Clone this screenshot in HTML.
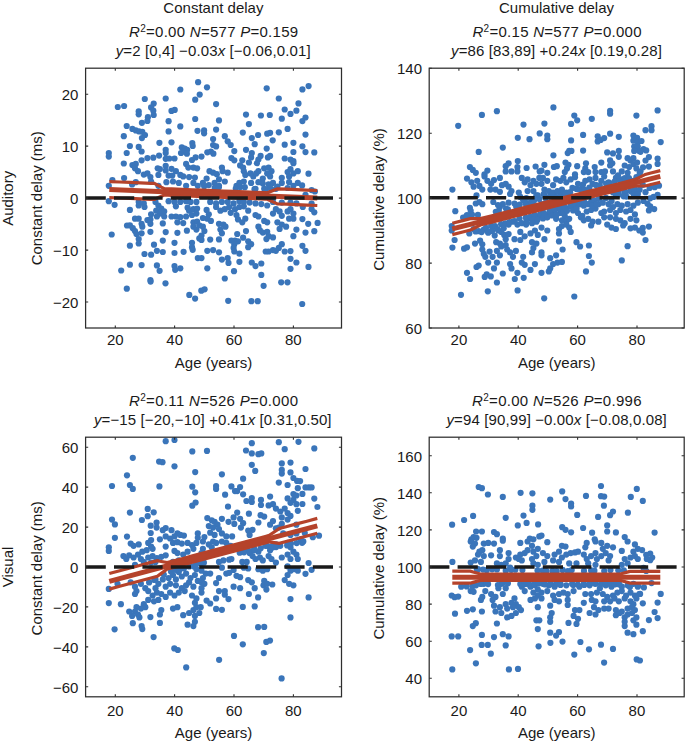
<!DOCTYPE html><html><head><meta charset="utf-8"><style>html,body{margin:0;padding:0;background:#fff;overflow:hidden}svg{display:block}text{font-family:"Liberation Sans", sans-serif;fill:#1a1a1a}</style></head><body>
<svg width="685" height="742" viewBox="0 0 685 742">
<rect width="685" height="742" fill="#fff"/>
<g fill="#3a75ba"><circle cx="198.1" cy="82.2" r="3.1"/><circle cx="180.3" cy="89.5" r="3.1"/><circle cx="199.7" cy="94.6" r="3.1"/><circle cx="144.8" cy="99.0" r="3.1"/><circle cx="165.7" cy="98.5" r="3.1"/><circle cx="195.2" cy="99.7" r="3.1"/><circle cx="117.8" cy="107.0" r="3.1"/><circle cx="124.1" cy="106.0" r="3.1"/><circle cx="153.7" cy="103.6" r="3.1"/><circle cx="151.1" cy="107.4" r="3.1"/><circle cx="153.3" cy="110.7" r="3.1"/><circle cx="153.7" cy="115.0" r="3.1"/><circle cx="138.7" cy="111.4" r="3.1"/><circle cx="138.7" cy="114.3" r="3.1"/><circle cx="171.5" cy="110.9" r="3.1"/><circle cx="174.7" cy="109.9" r="3.1"/><circle cx="147.9" cy="117.2" r="3.1"/><circle cx="147.4" cy="120.9" r="3.1"/><circle cx="141.9" cy="122.8" r="3.1"/><circle cx="168.6" cy="121.2" r="3.1"/><circle cx="195.2" cy="119.0" r="3.1"/><circle cx="126.7" cy="126.0" r="3.1"/><circle cx="180.3" cy="126.4" r="3.1"/><circle cx="132.4" cy="128.9" r="3.1"/><circle cx="135.8" cy="130.4" r="3.1"/><circle cx="139.1" cy="131.4" r="3.1"/><circle cx="142.3" cy="131.8" r="3.1"/><circle cx="145.0" cy="135.0" r="3.1"/><circle cx="141.9" cy="138.1" r="3.1"/><circle cx="168.6" cy="131.4" r="3.1"/><circle cx="197.5" cy="130.8" r="3.1"/><circle cx="123.8" cy="136.2" r="3.1"/><circle cx="159.4" cy="142.8" r="3.1"/><circle cx="171.5" cy="142.3" r="3.1"/><circle cx="192.3" cy="143.1" r="3.1"/><circle cx="192.7" cy="146.0" r="3.1"/><circle cx="129.9" cy="146.0" r="3.1"/><circle cx="138.7" cy="146.9" r="3.1"/><circle cx="141.6" cy="151.5" r="3.1"/><circle cx="165.7" cy="149.8" r="3.1"/><circle cx="165.7" cy="153.0" r="3.1"/><circle cx="181.8" cy="147.4" r="3.1"/><circle cx="184.7" cy="148.6" r="3.1"/><circle cx="187.2" cy="149.8" r="3.1"/><circle cx="181.0" cy="153.0" r="3.1"/><circle cx="183.9" cy="151.5" r="3.1"/><circle cx="186.9" cy="153.7" r="3.1"/><circle cx="108.8" cy="153.0" r="3.1"/><circle cx="108.8" cy="156.6" r="3.1"/><circle cx="126.7" cy="153.0" r="3.1"/><circle cx="141.6" cy="160.3" r="3.1"/><circle cx="147.4" cy="158.1" r="3.1"/><circle cx="153.3" cy="157.7" r="3.1"/><circle cx="159.1" cy="155.6" r="3.1"/><circle cx="165.7" cy="158.8" r="3.1"/><circle cx="169.3" cy="158.5" r="3.1"/><circle cx="174.5" cy="158.5" r="3.1"/><circle cx="192.0" cy="160.0" r="3.1"/><circle cx="195.6" cy="157.4" r="3.1"/><circle cx="123.8" cy="163.5" r="3.1"/><circle cx="132.4" cy="165.0" r="3.1"/><circle cx="135.8" cy="163.9" r="3.1"/><circle cx="135.0" cy="168.3" r="3.1"/><circle cx="138.0" cy="171.2" r="3.1"/><circle cx="157.7" cy="168.3" r="3.1"/><circle cx="159.9" cy="169.1" r="3.1"/><circle cx="165.7" cy="165.8" r="3.1"/><circle cx="165.7" cy="170.5" r="3.1"/><circle cx="171.5" cy="168.8" r="3.1"/><circle cx="175.9" cy="171.2" r="3.1"/><circle cx="186.1" cy="163.9" r="3.1"/><circle cx="188.3" cy="167.6" r="3.1"/><circle cx="193.4" cy="167.6" r="3.1"/><circle cx="197.1" cy="168.3" r="3.1"/><circle cx="143.8" cy="174.6" r="3.1"/><circle cx="147.4" cy="173.4" r="3.1"/><circle cx="150.4" cy="177.1" r="3.1"/><circle cx="158.4" cy="174.9" r="3.1"/><circle cx="168.6" cy="175.6" r="3.1"/><circle cx="172.3" cy="175.6" r="3.1"/><circle cx="180.3" cy="174.9" r="3.1"/><circle cx="183.2" cy="176.4" r="3.1"/><circle cx="189.1" cy="177.1" r="3.1"/><circle cx="194.9" cy="177.5" r="3.1"/><circle cx="124.1" cy="178.1" r="3.1"/><circle cx="112.4" cy="180.0" r="3.1"/><circle cx="207.0" cy="87.3" r="3.1"/><circle cx="266.7" cy="88.3" r="3.1"/><circle cx="278.8" cy="98.5" r="3.1"/><circle cx="216.1" cy="104.1" r="3.1"/><circle cx="298.5" cy="103.4" r="3.1"/><circle cx="284.7" cy="109.5" r="3.1"/><circle cx="290.5" cy="113.9" r="3.1"/><circle cx="296.4" cy="110.7" r="3.1"/><circle cx="246.0" cy="114.6" r="3.1"/><circle cx="260.9" cy="115.5" r="3.1"/><circle cx="269.8" cy="115.0" r="3.1"/><circle cx="281.8" cy="118.7" r="3.1"/><circle cx="219.0" cy="120.4" r="3.1"/><circle cx="248.9" cy="124.1" r="3.1"/><circle cx="287.6" cy="128.9" r="3.1"/><circle cx="216.1" cy="129.6" r="3.1"/><circle cx="204.1" cy="130.4" r="3.1"/><circle cx="204.1" cy="133.3" r="3.1"/><circle cx="242.8" cy="132.6" r="3.1"/><circle cx="258.1" cy="135.0" r="3.1"/><circle cx="267.2" cy="133.7" r="3.1"/><circle cx="270.1" cy="132.8" r="3.1"/><circle cx="278.8" cy="132.3" r="3.1"/><circle cx="224.8" cy="136.2" r="3.1"/><circle cx="251.8" cy="138.1" r="3.1"/><circle cx="213.1" cy="139.1" r="3.1"/><circle cx="227.7" cy="141.3" r="3.1"/><circle cx="230.7" cy="145.0" r="3.1"/><circle cx="234.3" cy="151.1" r="3.1"/><circle cx="254.7" cy="144.2" r="3.1"/><circle cx="272.7" cy="140.3" r="3.1"/><circle cx="284.7" cy="144.7" r="3.1"/><circle cx="293.4" cy="142.8" r="3.1"/><circle cx="213.1" cy="145.0" r="3.1"/><circle cx="216.1" cy="146.4" r="3.1"/><circle cx="246.0" cy="149.8" r="3.1"/><circle cx="266.7" cy="148.6" r="3.1"/><circle cx="293.4" cy="152.0" r="3.1"/><circle cx="207.3" cy="152.3" r="3.1"/><circle cx="210.9" cy="151.5" r="3.1"/><circle cx="213.4" cy="153.7" r="3.1"/><circle cx="201.5" cy="156.6" r="3.1"/><circle cx="251.8" cy="153.0" r="3.1"/><circle cx="251.1" cy="157.4" r="3.1"/><circle cx="248.9" cy="162.5" r="3.1"/><circle cx="260.6" cy="155.9" r="3.1"/><circle cx="258.4" cy="159.6" r="3.1"/><circle cx="256.9" cy="163.2" r="3.1"/><circle cx="267.9" cy="157.4" r="3.1"/><circle cx="270.1" cy="155.9" r="3.1"/><circle cx="284.7" cy="158.5" r="3.1"/><circle cx="290.5" cy="159.6" r="3.1"/><circle cx="293.4" cy="161.0" r="3.1"/><circle cx="293.4" cy="163.2" r="3.1"/><circle cx="231.4" cy="158.1" r="3.1"/><circle cx="234.3" cy="160.3" r="3.1"/><circle cx="242.3" cy="160.3" r="3.1"/><circle cx="240.1" cy="165.4" r="3.1"/><circle cx="243.1" cy="167.6" r="3.1"/><circle cx="243.8" cy="171.2" r="3.1"/><circle cx="245.3" cy="174.9" r="3.1"/><circle cx="221.9" cy="167.6" r="3.1"/><circle cx="222.6" cy="171.2" r="3.1"/><circle cx="209.5" cy="171.2" r="3.1"/><circle cx="213.1" cy="172.7" r="3.1"/><circle cx="216.8" cy="174.2" r="3.1"/><circle cx="227.7" cy="172.7" r="3.1"/><circle cx="250.4" cy="173.4" r="3.1"/><circle cx="253.3" cy="176.4" r="3.1"/><circle cx="256.2" cy="173.4" r="3.1"/><circle cx="258.4" cy="171.2" r="3.1"/><circle cx="264.2" cy="168.3" r="3.1"/><circle cx="268.6" cy="167.6" r="3.1"/><circle cx="271.5" cy="171.2" r="3.1"/><circle cx="267.2" cy="173.4" r="3.1"/><circle cx="270.1" cy="176.4" r="3.1"/><circle cx="287.6" cy="172.0" r="3.1"/><circle cx="290.5" cy="169.1" r="3.1"/><circle cx="293.4" cy="173.4" r="3.1"/><circle cx="289.1" cy="176.4" r="3.1"/><circle cx="297.8" cy="171.2" r="3.1"/><circle cx="262.8" cy="178.5" r="3.1"/><circle cx="281.8" cy="177.8" r="3.1"/><circle cx="206.6" cy="178.5" r="3.1"/><circle cx="219.0" cy="179.3" r="3.1"/><circle cx="302.4" cy="89.4" r="3.1"/><circle cx="308.6" cy="86.1" r="3.1"/><circle cx="305.5" cy="117.5" r="3.1"/><circle cx="302.4" cy="121.1" r="3.1"/><circle cx="305.5" cy="134.6" r="3.1"/><circle cx="302.4" cy="146.3" r="3.1"/><circle cx="305.5" cy="152.1" r="3.1"/><circle cx="314.3" cy="152.4" r="3.1"/><circle cx="308.5" cy="173.7" r="3.1"/><circle cx="108.8" cy="185.8" r="3.1"/><circle cx="132.1" cy="184.4" r="3.1"/><circle cx="135.8" cy="182.2" r="3.1"/><circle cx="151.1" cy="181.5" r="3.1"/><circle cx="166.4" cy="182.2" r="3.1"/><circle cx="173.0" cy="181.5" r="3.1"/><circle cx="178.8" cy="182.9" r="3.1"/><circle cx="186.1" cy="185.8" r="3.1"/><circle cx="193.4" cy="182.9" r="3.1"/><circle cx="197.8" cy="185.8" r="3.1"/><circle cx="158.4" cy="185.8" r="3.1"/><circle cx="108.8" cy="201.2" r="3.1"/><circle cx="114.6" cy="204.8" r="3.1"/><circle cx="129.9" cy="209.9" r="3.1"/><circle cx="138.7" cy="201.9" r="3.1"/><circle cx="138.7" cy="205.5" r="3.1"/><circle cx="143.8" cy="203.4" r="3.1"/><circle cx="144.5" cy="207.0" r="3.1"/><circle cx="155.5" cy="201.9" r="3.1"/><circle cx="158.4" cy="205.5" r="3.1"/><circle cx="161.3" cy="208.5" r="3.1"/><circle cx="156.2" cy="210.7" r="3.1"/><circle cx="159.9" cy="213.6" r="3.1"/><circle cx="164.2" cy="211.4" r="3.1"/><circle cx="164.2" cy="216.5" r="3.1"/><circle cx="156.9" cy="216.5" r="3.1"/><circle cx="151.1" cy="214.3" r="3.1"/><circle cx="168.6" cy="201.2" r="3.1"/><circle cx="174.5" cy="201.9" r="3.1"/><circle cx="175.9" cy="206.3" r="3.1"/><circle cx="180.3" cy="201.9" r="3.1"/><circle cx="186.1" cy="201.2" r="3.1"/><circle cx="190.5" cy="201.9" r="3.1"/><circle cx="196.4" cy="201.9" r="3.1"/><circle cx="187.6" cy="207.7" r="3.1"/><circle cx="189.1" cy="210.7" r="3.1"/><circle cx="193.4" cy="209.2" r="3.1"/><circle cx="197.1" cy="208.5" r="3.1"/><circle cx="192.0" cy="215.0" r="3.1"/><circle cx="196.4" cy="213.6" r="3.1"/><circle cx="171.5" cy="216.5" r="3.1"/><circle cx="175.9" cy="216.5" r="3.1"/><circle cx="180.3" cy="217.2" r="3.1"/><circle cx="186.1" cy="216.5" r="3.1"/><circle cx="177.4" cy="222.3" r="3.1"/><circle cx="183.2" cy="223.1" r="3.1"/><circle cx="135.0" cy="218.7" r="3.1"/><circle cx="138.7" cy="218.7" r="3.1"/><circle cx="141.6" cy="223.8" r="3.1"/><circle cx="142.3" cy="226.7" r="3.1"/><circle cx="147.4" cy="220.1" r="3.1"/><circle cx="150.4" cy="219.4" r="3.1"/><circle cx="150.4" cy="223.8" r="3.1"/><circle cx="162.8" cy="223.4" r="3.1"/><circle cx="193.4" cy="222.3" r="3.1"/><circle cx="197.1" cy="221.6" r="3.1"/><circle cx="193.4" cy="226.7" r="3.1"/><circle cx="196.4" cy="229.6" r="3.1"/><circle cx="199.3" cy="225.3" r="3.1"/><circle cx="127.0" cy="225.5" r="3.1"/><circle cx="129.9" cy="225.3" r="3.1"/><circle cx="132.8" cy="228.2" r="3.1"/><circle cx="135.0" cy="231.1" r="3.1"/><circle cx="136.5" cy="234.0" r="3.1"/><circle cx="111.7" cy="234.5" r="3.1"/><circle cx="141.6" cy="233.3" r="3.1"/><circle cx="150.4" cy="231.8" r="3.1"/><circle cx="165.7" cy="232.1" r="3.1"/><circle cx="177.4" cy="232.8" r="3.1"/><circle cx="186.9" cy="230.7" r="3.1"/><circle cx="138.7" cy="239.1" r="3.1"/><circle cx="138.7" cy="243.5" r="3.1"/><circle cx="129.9" cy="245.7" r="3.1"/><circle cx="154.0" cy="244.7" r="3.1"/><circle cx="156.9" cy="250.8" r="3.1"/><circle cx="162.8" cy="252.0" r="3.1"/><circle cx="162.8" cy="240.6" r="3.1"/><circle cx="174.5" cy="242.8" r="3.1"/><circle cx="192.0" cy="242.8" r="3.1"/><circle cx="192.0" cy="247.2" r="3.1"/><circle cx="192.7" cy="249.8" r="3.1"/><circle cx="199.3" cy="238.4" r="3.1"/><circle cx="144.5" cy="254.0" r="3.1"/><circle cx="151.1" cy="254.7" r="3.1"/><circle cx="174.5" cy="253.0" r="3.1"/><circle cx="183.6" cy="251.8" r="3.1"/><circle cx="197.8" cy="258.1" r="3.1"/><circle cx="129.9" cy="264.7" r="3.1"/><circle cx="141.6" cy="265.1" r="3.1"/><circle cx="156.9" cy="265.4" r="3.1"/><circle cx="159.6" cy="270.8" r="3.1"/><circle cx="174.5" cy="266.1" r="3.1"/><circle cx="175.2" cy="269.8" r="3.1"/><circle cx="180.3" cy="268.3" r="3.1"/><circle cx="121.2" cy="270.5" r="3.1"/><circle cx="150.4" cy="280.0" r="3.1"/><circle cx="202.9" cy="182.9" r="3.1"/><circle cx="208.8" cy="185.1" r="3.1"/><circle cx="214.6" cy="182.9" r="3.1"/><circle cx="219.0" cy="185.8" r="3.1"/><circle cx="224.8" cy="181.5" r="3.1"/><circle cx="217.5" cy="188.0" r="3.1"/><circle cx="236.5" cy="185.8" r="3.1"/><circle cx="239.4" cy="182.9" r="3.1"/><circle cx="243.8" cy="181.5" r="3.1"/><circle cx="251.1" cy="182.9" r="3.1"/><circle cx="258.4" cy="182.2" r="3.1"/><circle cx="262.8" cy="183.6" r="3.1"/><circle cx="268.6" cy="184.4" r="3.1"/><circle cx="273.0" cy="182.9" r="3.1"/><circle cx="277.4" cy="186.6" r="3.1"/><circle cx="281.8" cy="182.9" r="3.1"/><circle cx="289.1" cy="182.2" r="3.1"/><circle cx="293.4" cy="185.8" r="3.1"/><circle cx="297.8" cy="182.9" r="3.1"/><circle cx="255.5" cy="188.8" r="3.1"/><circle cx="264.2" cy="188.8" r="3.1"/><circle cx="275.9" cy="188.8" r="3.1"/><circle cx="287.6" cy="188.0" r="3.1"/><circle cx="210.2" cy="201.9" r="3.1"/><circle cx="216.1" cy="203.4" r="3.1"/><circle cx="221.9" cy="201.9" r="3.1"/><circle cx="227.7" cy="201.9" r="3.1"/><circle cx="233.6" cy="203.4" r="3.1"/><circle cx="239.4" cy="201.2" r="3.1"/><circle cx="243.8" cy="201.9" r="3.1"/><circle cx="249.6" cy="202.6" r="3.1"/><circle cx="255.5" cy="203.4" r="3.1"/><circle cx="261.3" cy="204.1" r="3.1"/><circle cx="267.2" cy="205.5" r="3.1"/><circle cx="273.0" cy="201.9" r="3.1"/><circle cx="281.8" cy="202.6" r="3.1"/><circle cx="290.5" cy="202.6" r="3.1"/><circle cx="296.4" cy="203.4" r="3.1"/><circle cx="216.1" cy="207.0" r="3.1"/><circle cx="220.4" cy="210.7" r="3.1"/><circle cx="224.8" cy="209.2" r="3.1"/><circle cx="229.2" cy="207.0" r="3.1"/><circle cx="230.7" cy="212.8" r="3.1"/><circle cx="235.0" cy="209.2" r="3.1"/><circle cx="239.4" cy="207.0" r="3.1"/><circle cx="243.8" cy="206.3" r="3.1"/><circle cx="248.2" cy="210.7" r="3.1"/><circle cx="206.6" cy="209.9" r="3.1"/><circle cx="208.8" cy="214.3" r="3.1"/><circle cx="207.3" cy="218.7" r="3.1"/><circle cx="210.9" cy="220.9" r="3.1"/><circle cx="202.9" cy="218.0" r="3.1"/><circle cx="236.5" cy="215.0" r="3.1"/><circle cx="238.0" cy="219.4" r="3.1"/><circle cx="242.3" cy="222.3" r="3.1"/><circle cx="245.3" cy="218.7" r="3.1"/><circle cx="255.5" cy="215.0" r="3.1"/><circle cx="258.4" cy="216.5" r="3.1"/><circle cx="264.2" cy="220.9" r="3.1"/><circle cx="267.2" cy="222.3" r="3.1"/><circle cx="273.0" cy="213.6" r="3.1"/><circle cx="275.9" cy="209.2" r="3.1"/><circle cx="279.6" cy="211.4" r="3.1"/><circle cx="281.8" cy="215.8" r="3.1"/><circle cx="287.6" cy="211.4" r="3.1"/><circle cx="290.5" cy="209.2" r="3.1"/><circle cx="293.4" cy="213.6" r="3.1"/><circle cx="289.1" cy="218.7" r="3.1"/><circle cx="293.4" cy="218.7" r="3.1"/><circle cx="277.4" cy="222.3" r="3.1"/><circle cx="281.8" cy="224.5" r="3.1"/><circle cx="279.6" cy="228.9" r="3.1"/><circle cx="286.1" cy="226.7" r="3.1"/><circle cx="219.0" cy="223.8" r="3.1"/><circle cx="223.4" cy="224.5" r="3.1"/><circle cx="225.5" cy="226.7" r="3.1"/><circle cx="220.4" cy="229.6" r="3.1"/><circle cx="221.9" cy="233.3" r="3.1"/><circle cx="202.9" cy="226.7" r="3.1"/><circle cx="204.4" cy="231.1" r="3.1"/><circle cx="201.5" cy="235.5" r="3.1"/><circle cx="201.5" cy="239.9" r="3.1"/><circle cx="258.4" cy="226.7" r="3.1"/><circle cx="259.9" cy="230.4" r="3.1"/><circle cx="262.8" cy="232.6" r="3.1"/><circle cx="267.2" cy="231.8" r="3.1"/><circle cx="268.6" cy="236.2" r="3.1"/><circle cx="273.0" cy="237.4" r="3.1"/><circle cx="266.4" cy="239.1" r="3.1"/><circle cx="246.0" cy="231.1" r="3.1"/><circle cx="237.2" cy="234.0" r="3.1"/><circle cx="243.1" cy="237.7" r="3.1"/><circle cx="296.4" cy="229.6" r="3.1"/><circle cx="293.4" cy="236.2" r="3.1"/><circle cx="210.2" cy="239.6" r="3.1"/><circle cx="219.0" cy="239.4" r="3.1"/><circle cx="231.4" cy="240.6" r="3.1"/><circle cx="235.0" cy="240.6" r="3.1"/><circle cx="238.0" cy="241.3" r="3.1"/><circle cx="234.3" cy="244.2" r="3.1"/><circle cx="233.6" cy="247.9" r="3.1"/><circle cx="234.3" cy="251.5" r="3.1"/><circle cx="239.4" cy="253.7" r="3.1"/><circle cx="248.2" cy="241.3" r="3.1"/><circle cx="251.1" cy="244.2" r="3.1"/><circle cx="248.2" cy="247.2" r="3.1"/><circle cx="281.8" cy="244.2" r="3.1"/><circle cx="278.8" cy="247.9" r="3.1"/><circle cx="273.0" cy="250.1" r="3.1"/><circle cx="268.6" cy="251.5" r="3.1"/><circle cx="265.7" cy="251.5" r="3.1"/><circle cx="275.9" cy="250.8" r="3.1"/><circle cx="284.7" cy="251.5" r="3.1"/><circle cx="290.5" cy="251.1" r="3.1"/><circle cx="207.3" cy="250.8" r="3.1"/><circle cx="213.1" cy="250.1" r="3.1"/><circle cx="219.0" cy="252.3" r="3.1"/><circle cx="201.5" cy="258.1" r="3.1"/><circle cx="221.9" cy="259.6" r="3.1"/><circle cx="227.7" cy="258.1" r="3.1"/><circle cx="228.5" cy="262.9" r="3.1"/><circle cx="239.4" cy="261.8" r="3.1"/><circle cx="251.8" cy="262.5" r="3.1"/><circle cx="255.5" cy="266.1" r="3.1"/><circle cx="261.3" cy="263.5" r="3.1"/><circle cx="290.5" cy="258.8" r="3.1"/><circle cx="296.4" cy="262.5" r="3.1"/><circle cx="207.3" cy="268.3" r="3.1"/><circle cx="234.0" cy="271.2" r="3.1"/><circle cx="290.5" cy="268.8" r="3.1"/><circle cx="261.3" cy="274.9" r="3.1"/><circle cx="224.8" cy="278.5" r="3.1"/><circle cx="302.1" cy="185.4" r="3.1"/><circle cx="311.6" cy="190.1" r="3.1"/><circle cx="314.9" cy="191.5" r="3.1"/><circle cx="305.5" cy="194.8" r="3.1"/><circle cx="311.6" cy="203.6" r="3.1"/><circle cx="302.8" cy="207.0" r="3.1"/><circle cx="311.6" cy="209.0" r="3.1"/><circle cx="314.3" cy="212.3" r="3.1"/><circle cx="302.4" cy="219.1" r="3.1"/><circle cx="308.2" cy="223.8" r="3.1"/><circle cx="317.6" cy="222.9" r="3.1"/><circle cx="305.5" cy="232.6" r="3.1"/><circle cx="314.3" cy="231.2" r="3.1"/><circle cx="302.4" cy="245.8" r="3.1"/><circle cx="305.5" cy="250.8" r="3.1"/><circle cx="308.5" cy="266.9" r="3.1"/><circle cx="126.8" cy="288.7" r="3.1"/><circle cx="150.6" cy="281.6" r="3.1"/><circle cx="165.5" cy="283.3" r="3.1"/><circle cx="189.3" cy="294.9" r="3.1"/><circle cx="195.1" cy="298.6" r="3.1"/><circle cx="201.3" cy="290.7" r="3.1"/><circle cx="204.6" cy="289.3" r="3.1"/><circle cx="228.2" cy="300.8" r="3.1"/><circle cx="251.4" cy="301.2" r="3.1"/><circle cx="257.7" cy="301.2" r="3.1"/><circle cx="263.6" cy="285.8" r="3.1"/><circle cx="281.2" cy="282.3" r="3.1"/><circle cx="287.5" cy="282.3" r="3.1"/><circle cx="302.2" cy="304.0" r="3.1"/></g>
<g fill="#3a75ba"><circle cx="204.2" cy="186.2" r="3.1"/><circle cx="214.7" cy="187.8" r="3.1"/><circle cx="218.9" cy="187.2" r="3.1"/><circle cx="235.8" cy="188.5" r="3.1"/><circle cx="240.3" cy="187.0" r="3.1"/><circle cx="244.8" cy="187.2" r="3.1"/><circle cx="254.5" cy="189.2" r="3.1"/><circle cx="265.8" cy="189.6" r="3.1"/><circle cx="270.3" cy="188.1" r="3.1"/></g>
<g fill="none" stroke-linecap="butt">
<path d="M109.3 181.6 L119.7 182.0 L130.1 182.4 L140.5 182.9 L150.9 183.3 L154.3 183.4 L161.3 187.1 L164.3 188.6 L171.7 188.9 L182.1 189.3 L192.5 189.8 L202.9 190.2 L213.3 190.6 L223.7 191.0 L234.1 191.4 L244.5 191.9 L254.9 192.3 L265.3 192.7 L267.3 192.8 L275.7 189.5 L277.3 188.9 L286.1 189.2 L296.5 189.7 L306.9 190.1 L317.3 190.5" stroke="#b5432b" stroke-width="3.2"/>
<path d="M109.3 197.6 L119.7 198.0 L130.1 198.4 L140.5 198.9 L150.9 199.3 L154.3 199.4 L161.3 196.3 L164.3 195.0 L171.7 195.3 L182.1 195.7 L192.5 196.2 L202.9 196.6 L213.3 197.0 L223.7 197.4 L234.1 197.8 L244.5 198.3 L254.9 198.7 L265.3 199.1 L267.3 199.2 L275.7 203.1 L277.3 203.9 L286.1 204.2 L296.5 204.7 L306.9 205.1 L317.3 205.5" stroke="#b5432b" stroke-width="3.2"/>
<line x1="109.3" y1="189.6" x2="317.3" y2="198.0" stroke="#b5432b" stroke-width="5"/>
</g>
<line x1="85.6" y1="198.1" x2="341.5" y2="198.1" stroke="#1a1a1a" stroke-width="3.5" stroke-dasharray="20.2 8.2"/>
<rect x="85.6" y="68.2" width="255.9" height="259.8" fill="none" stroke="#2e2e2e" stroke-width="1.25"/>
<path d="M115.3 328.0v-2.6M115.3 68.2v2.6M174.6 328.0v-2.6M174.6 68.2v2.6M234.0 328.0v-2.6M234.0 68.2v2.6M293.4 328.0v-2.6M293.4 68.2v2.6M85.6 94.2h2.6M341.5 94.2h-2.6M85.6 146.1h2.6M341.5 146.1h-2.6M85.6 198.1h2.6M341.5 198.1h-2.6M85.6 250.1h2.6M341.5 250.1h-2.6M85.6 302.0h2.6M341.5 302.0h-2.6" stroke="#2e2e2e" stroke-width="1.1" fill="none"/>
<text id="xt0_20" transform="translate(115.28,345.20)" font-size="15" text-anchor="middle">20</text>
<text id="xt0_40" transform="translate(174.64,345.20)" font-size="15" text-anchor="middle">40</text>
<text id="xt0_60" transform="translate(234.00,345.20)" font-size="15" text-anchor="middle">60</text>
<text id="xt0_80" transform="translate(293.36,345.20)" font-size="15" text-anchor="middle">80</text>
<text id="yt0_20" transform="translate(78.40,100.38)" font-size="15" text-anchor="end">20</text>
<text id="yt0_10" transform="translate(78.40,152.34)" font-size="15" text-anchor="end">10</text>
<text id="yt0_0" transform="translate(78.40,204.30)" font-size="15" text-anchor="end">0</text>
<text id="yt0_-10" transform="translate(78.40,256.26)" font-size="15" text-anchor="end">−10</text>
<text id="yt0_-20" transform="translate(78.40,308.22)" font-size="15" text-anchor="end">−20</text>
<text id="xl0" transform="translate(213.55,367.60)" font-size="15" text-anchor="middle">Age (years)</text>
<text id="yl0" transform="translate(41.80,198.25) rotate(-90)" font-size="15" text-anchor="middle">Constant delay (ms)</text>
<text id="ti0" transform="translate(213.40,13.10)" font-size="15" text-anchor="middle">Constant delay</text>
<text id="l2_0" transform="translate(213.60,37.20)" font-size="15" text-anchor="middle" textLength="169.00" lengthAdjust="spacing"><tspan font-style="italic">R</tspan><tspan font-size="10" dy="-5.6">2</tspan><tspan dy="5.6">=0.00 </tspan><tspan font-style="italic">N</tspan>=577 <tspan font-style="italic">P</tspan>=0.159</text>
<text id="l3_0" transform="translate(213.15,55.60)" font-size="15" text-anchor="middle" textLength="194.90" lengthAdjust="spacing"><tspan font-style="italic">y</tspan>=2 [0,4] −0.03<tspan font-style="italic">x</tspan> [−0.06,0.01]</text>
<g fill="#3a75ba"><circle cx="458.2" cy="125.8" r="3.1"/><circle cx="481.9" cy="114.9" r="3.1"/><circle cx="496.9" cy="111.2" r="3.1"/><circle cx="523.5" cy="124.6" r="3.1"/><circle cx="539.7" cy="133.4" r="3.1"/><circle cx="517.8" cy="137.8" r="3.1"/><circle cx="529.5" cy="139.2" r="3.1"/><circle cx="502.8" cy="147.6" r="3.1"/><circle cx="478.7" cy="151.9" r="3.1"/><circle cx="517.8" cy="161.1" r="3.1"/><circle cx="469.9" cy="167.0" r="3.1"/><circle cx="472.8" cy="169.9" r="3.1"/><circle cx="475.8" cy="172.8" r="3.1"/><circle cx="487.4" cy="170.6" r="3.1"/><circle cx="484.5" cy="174.3" r="3.1"/><circle cx="505.7" cy="166.2" r="3.1"/><circle cx="508.6" cy="163.3" r="3.1"/><circle cx="505.7" cy="171.4" r="3.1"/><circle cx="511.5" cy="171.4" r="3.1"/><circle cx="517.4" cy="167.0" r="3.1"/><circle cx="517.4" cy="171.4" r="3.1"/><circle cx="526.6" cy="168.0" r="3.1"/><circle cx="535.6" cy="166.5" r="3.1"/><circle cx="539.7" cy="171.4" r="3.1"/><circle cx="553.4" cy="107.4" r="3.1"/><circle cx="610.1" cy="110.8" r="3.1"/><circle cx="610.1" cy="113.7" r="3.1"/><circle cx="636.4" cy="115.6" r="3.1"/><circle cx="574.3" cy="115.6" r="3.1"/><circle cx="577.2" cy="120.3" r="3.1"/><circle cx="571.1" cy="123.9" r="3.1"/><circle cx="591.8" cy="118.8" r="3.1"/><circle cx="544.4" cy="123.6" r="3.1"/><circle cx="547.3" cy="135.6" r="3.1"/><circle cx="547.3" cy="139.2" r="3.1"/><circle cx="583.1" cy="134.9" r="3.1"/><circle cx="571.1" cy="140.4" r="3.1"/><circle cx="597.7" cy="136.3" r="3.1"/><circle cx="597.7" cy="141.4" r="3.1"/><circle cx="600.6" cy="140.0" r="3.1"/><circle cx="604.2" cy="138.1" r="3.1"/><circle cx="610.1" cy="133.7" r="3.1"/><circle cx="618.8" cy="136.8" r="3.1"/><circle cx="633.4" cy="135.6" r="3.1"/><circle cx="637.1" cy="137.8" r="3.1"/><circle cx="633.4" cy="140.7" r="3.1"/><circle cx="637.8" cy="142.2" r="3.1"/><circle cx="634.2" cy="146.5" r="3.1"/><circle cx="637.8" cy="146.5" r="3.1"/><circle cx="634.2" cy="150.9" r="3.1"/><circle cx="639.3" cy="150.9" r="3.1"/><circle cx="569.2" cy="150.9" r="3.1"/><circle cx="571.4" cy="150.9" r="3.1"/><circle cx="567.7" cy="153.1" r="3.1"/><circle cx="583.1" cy="150.6" r="3.1"/><circle cx="553.4" cy="155.3" r="3.1"/><circle cx="607.2" cy="152.4" r="3.1"/><circle cx="613.0" cy="153.4" r="3.1"/><circle cx="618.8" cy="150.9" r="3.1"/><circle cx="618.8" cy="156.8" r="3.1"/><circle cx="627.6" cy="158.2" r="3.1"/><circle cx="630.5" cy="160.4" r="3.1"/><circle cx="633.4" cy="158.2" r="3.1"/><circle cx="544.4" cy="164.8" r="3.1"/><circle cx="553.9" cy="167.0" r="3.1"/><circle cx="556.8" cy="166.2" r="3.1"/><circle cx="565.5" cy="162.6" r="3.1"/><circle cx="568.5" cy="164.8" r="3.1"/><circle cx="567.0" cy="168.4" r="3.1"/><circle cx="577.2" cy="166.2" r="3.1"/><circle cx="586.0" cy="163.3" r="3.1"/><circle cx="585.3" cy="168.4" r="3.1"/><circle cx="583.8" cy="172.1" r="3.1"/><circle cx="594.7" cy="167.0" r="3.1"/><circle cx="601.3" cy="162.6" r="3.1"/><circle cx="610.1" cy="160.4" r="3.1"/><circle cx="612.3" cy="163.3" r="3.1"/><circle cx="610.1" cy="165.5" r="3.1"/><circle cx="624.7" cy="165.5" r="3.1"/><circle cx="629.1" cy="167.0" r="3.1"/><circle cx="633.4" cy="164.1" r="3.1"/><circle cx="636.4" cy="168.4" r="3.1"/><circle cx="637.1" cy="162.6" r="3.1"/><circle cx="541.5" cy="170.6" r="3.1"/><circle cx="547.3" cy="172.8" r="3.1"/><circle cx="564.8" cy="172.1" r="3.1"/><circle cx="575.0" cy="174.3" r="3.1"/><circle cx="588.2" cy="172.1" r="3.1"/><circle cx="595.5" cy="172.1" r="3.1"/><circle cx="601.3" cy="172.1" r="3.1"/><circle cx="605.0" cy="171.4" r="3.1"/><circle cx="613.0" cy="171.4" r="3.1"/><circle cx="621.8" cy="171.4" r="3.1"/><circle cx="627.6" cy="172.8" r="3.1"/><circle cx="657.6" cy="110.4" r="3.1"/><circle cx="651.5" cy="126.2" r="3.1"/><circle cx="651.5" cy="130.2" r="3.1"/><circle cx="645.5" cy="130.2" r="3.1"/><circle cx="641.5" cy="141.0" r="3.1"/><circle cx="643.5" cy="149.1" r="3.1"/><circle cx="646.2" cy="150.4" r="3.1"/><circle cx="640.5" cy="151.8" r="3.1"/><circle cx="660.7" cy="142.1" r="3.1"/><circle cx="648.9" cy="157.1" r="3.1"/><circle cx="645.5" cy="160.5" r="3.1"/><circle cx="657.6" cy="158.5" r="3.1"/><circle cx="657.6" cy="163.9" r="3.1"/><circle cx="648.9" cy="166.6" r="3.1"/><circle cx="640.5" cy="171.3" r="3.1"/><circle cx="467.0" cy="178.6" r="3.1"/><circle cx="471.4" cy="182.3" r="3.1"/><circle cx="473.6" cy="186.7" r="3.1"/><circle cx="477.2" cy="180.8" r="3.1"/><circle cx="479.4" cy="185.9" r="3.1"/><circle cx="482.3" cy="189.6" r="3.1"/><circle cx="484.5" cy="176.5" r="3.1"/><circle cx="487.4" cy="180.8" r="3.1"/><circle cx="491.1" cy="183.8" r="3.1"/><circle cx="494.0" cy="180.1" r="3.1"/><circle cx="490.4" cy="189.6" r="3.1"/><circle cx="495.5" cy="189.6" r="3.1"/><circle cx="499.9" cy="177.9" r="3.1"/><circle cx="502.0" cy="185.2" r="3.1"/><circle cx="499.9" cy="191.8" r="3.1"/><circle cx="505.7" cy="183.8" r="3.1"/><circle cx="508.6" cy="186.7" r="3.1"/><circle cx="511.5" cy="191.1" r="3.1"/><circle cx="510.1" cy="194.0" r="3.1"/><circle cx="518.8" cy="192.5" r="3.1"/><circle cx="521.8" cy="177.9" r="3.1"/><circle cx="524.7" cy="182.3" r="3.1"/><circle cx="527.6" cy="179.4" r="3.1"/><circle cx="530.5" cy="185.2" r="3.1"/><circle cx="533.4" cy="180.8" r="3.1"/><circle cx="536.4" cy="183.8" r="3.1"/><circle cx="539.3" cy="177.9" r="3.1"/><circle cx="527.6" cy="191.1" r="3.1"/><circle cx="533.4" cy="191.1" r="3.1"/><circle cx="537.8" cy="195.4" r="3.1"/><circle cx="520.3" cy="196.9" r="3.1"/><circle cx="452.4" cy="189.6" r="3.1"/><circle cx="476.5" cy="195.4" r="3.1"/><circle cx="475.8" cy="203.5" r="3.1"/><circle cx="479.4" cy="202.0" r="3.1"/><circle cx="482.3" cy="204.2" r="3.1"/><circle cx="469.9" cy="207.8" r="3.1"/><circle cx="470.7" cy="210.8" r="3.1"/><circle cx="455.3" cy="211.2" r="3.1"/><circle cx="493.3" cy="202.0" r="3.1"/><circle cx="499.9" cy="207.1" r="3.1"/><circle cx="502.8" cy="204.2" r="3.1"/><circle cx="508.6" cy="202.7" r="3.1"/><circle cx="507.9" cy="209.3" r="3.1"/><circle cx="514.5" cy="203.5" r="3.1"/><circle cx="518.8" cy="205.7" r="3.1"/><circle cx="521.8" cy="210.0" r="3.1"/><circle cx="527.6" cy="204.2" r="3.1"/><circle cx="533.4" cy="201.3" r="3.1"/><circle cx="467.0" cy="215.1" r="3.1"/><circle cx="471.4" cy="215.9" r="3.1"/><circle cx="451.7" cy="226.1" r="3.1"/><circle cx="451.7" cy="230.5" r="3.1"/><circle cx="473.6" cy="229.0" r="3.1"/><circle cx="478.7" cy="231.2" r="3.1"/><circle cx="483.8" cy="229.7" r="3.1"/><circle cx="488.2" cy="232.7" r="3.1"/><circle cx="491.8" cy="230.5" r="3.1"/><circle cx="494.7" cy="235.6" r="3.1"/><circle cx="498.4" cy="230.5" r="3.1"/><circle cx="501.3" cy="231.9" r="3.1"/><circle cx="504.2" cy="234.9" r="3.1"/><circle cx="508.6" cy="234.1" r="3.1"/><circle cx="505.7" cy="239.2" r="3.1"/><circle cx="517.4" cy="224.6" r="3.1"/><circle cx="521.8" cy="223.2" r="3.1"/><circle cx="526.1" cy="224.6" r="3.1"/><circle cx="527.6" cy="218.8" r="3.1"/><circle cx="532.0" cy="223.2" r="3.1"/><circle cx="536.4" cy="221.7" r="3.1"/><circle cx="537.8" cy="217.3" r="3.1"/><circle cx="534.9" cy="230.5" r="3.1"/><circle cx="537.8" cy="234.9" r="3.1"/><circle cx="508.6" cy="224.6" r="3.1"/><circle cx="513.0" cy="221.7" r="3.1"/><circle cx="520.3" cy="231.9" r="3.1"/><circle cx="524.7" cy="236.3" r="3.1"/><circle cx="530.5" cy="233.4" r="3.1"/><circle cx="454.6" cy="240.0" r="3.1"/><circle cx="452.4" cy="247.6" r="3.1"/><circle cx="464.1" cy="248.7" r="3.1"/><circle cx="467.0" cy="247.3" r="3.1"/><circle cx="475.0" cy="243.6" r="3.1"/><circle cx="480.1" cy="240.7" r="3.1"/><circle cx="482.3" cy="244.3" r="3.1"/><circle cx="482.3" cy="249.5" r="3.1"/><circle cx="483.8" cy="253.8" r="3.1"/><circle cx="485.3" cy="256.8" r="3.1"/><circle cx="496.2" cy="242.2" r="3.1"/><circle cx="499.9" cy="243.6" r="3.1"/><circle cx="501.3" cy="246.5" r="3.1"/><circle cx="505.7" cy="245.1" r="3.1"/><circle cx="514.5" cy="239.2" r="3.1"/><circle cx="520.3" cy="240.0" r="3.1"/><circle cx="532.0" cy="242.2" r="3.1"/><circle cx="536.4" cy="243.6" r="3.1"/><circle cx="533.4" cy="248.0" r="3.1"/><circle cx="489.6" cy="251.6" r="3.1"/><circle cx="496.9" cy="250.9" r="3.1"/><circle cx="492.6" cy="256.8" r="3.1"/><circle cx="499.9" cy="255.3" r="3.1"/><circle cx="507.2" cy="249.5" r="3.1"/><circle cx="510.1" cy="252.4" r="3.1"/><circle cx="513.0" cy="256.8" r="3.1"/><circle cx="515.9" cy="250.9" r="3.1"/><circle cx="523.2" cy="256.8" r="3.1"/><circle cx="532.0" cy="252.4" r="3.1"/><circle cx="476.5" cy="267.0" r="3.1"/><circle cx="478.7" cy="265.5" r="3.1"/><circle cx="488.2" cy="262.6" r="3.1"/><circle cx="496.9" cy="262.6" r="3.1"/><circle cx="494.0" cy="268.4" r="3.1"/><circle cx="510.1" cy="264.1" r="3.1"/><circle cx="511.5" cy="268.4" r="3.1"/><circle cx="521.8" cy="262.6" r="3.1"/><circle cx="524.7" cy="264.8" r="3.1"/><circle cx="530.5" cy="269.9" r="3.1"/><circle cx="534.9" cy="264.1" r="3.1"/><circle cx="467.0" cy="272.8" r="3.1"/><circle cx="486.7" cy="274.3" r="3.1"/><circle cx="502.8" cy="273.5" r="3.1"/><circle cx="517.4" cy="272.8" r="3.1"/><circle cx="542.9" cy="177.9" r="3.1"/><circle cx="547.3" cy="180.8" r="3.1"/><circle cx="553.1" cy="185.2" r="3.1"/><circle cx="556.1" cy="179.4" r="3.1"/><circle cx="560.4" cy="180.8" r="3.1"/><circle cx="563.4" cy="177.9" r="3.1"/><circle cx="566.3" cy="182.3" r="3.1"/><circle cx="570.7" cy="179.4" r="3.1"/><circle cx="575.0" cy="177.2" r="3.1"/><circle cx="578.0" cy="183.8" r="3.1"/><circle cx="576.5" cy="188.9" r="3.1"/><circle cx="582.3" cy="188.1" r="3.1"/><circle cx="585.3" cy="180.8" r="3.1"/><circle cx="589.6" cy="179.4" r="3.1"/><circle cx="592.6" cy="183.8" r="3.1"/><circle cx="595.5" cy="177.9" r="3.1"/><circle cx="601.3" cy="180.8" r="3.1"/><circle cx="604.2" cy="176.5" r="3.1"/><circle cx="608.6" cy="182.3" r="3.1"/><circle cx="615.9" cy="177.9" r="3.1"/><circle cx="621.8" cy="179.4" r="3.1"/><circle cx="627.6" cy="177.9" r="3.1"/><circle cx="633.4" cy="180.8" r="3.1"/><circle cx="636.4" cy="177.2" r="3.1"/><circle cx="544.4" cy="189.6" r="3.1"/><circle cx="548.8" cy="191.1" r="3.1"/><circle cx="553.1" cy="192.5" r="3.1"/><circle cx="561.9" cy="189.6" r="3.1"/><circle cx="566.3" cy="192.5" r="3.1"/><circle cx="569.2" cy="195.4" r="3.1"/><circle cx="613.0" cy="192.5" r="3.1"/><circle cx="618.8" cy="191.1" r="3.1"/><circle cx="624.7" cy="192.5" r="3.1"/><circle cx="630.5" cy="191.1" r="3.1"/><circle cx="636.4" cy="192.5" r="3.1"/><circle cx="544.4" cy="195.4" r="3.1"/><circle cx="541.5" cy="183.8" r="3.1"/><circle cx="553.1" cy="195.4" r="3.1"/><circle cx="541.5" cy="204.2" r="3.1"/><circle cx="545.8" cy="202.7" r="3.1"/><circle cx="551.7" cy="204.2" r="3.1"/><circle cx="557.5" cy="208.6" r="3.1"/><circle cx="561.9" cy="210.0" r="3.1"/><circle cx="566.3" cy="208.6" r="3.1"/><circle cx="570.7" cy="205.7" r="3.1"/><circle cx="575.0" cy="204.2" r="3.1"/><circle cx="579.4" cy="202.7" r="3.1"/><circle cx="583.8" cy="205.7" r="3.1"/><circle cx="588.2" cy="204.2" r="3.1"/><circle cx="592.6" cy="202.7" r="3.1"/><circle cx="598.4" cy="204.2" r="3.1"/><circle cx="602.8" cy="202.7" r="3.1"/><circle cx="608.6" cy="204.2" r="3.1"/><circle cx="613.0" cy="207.1" r="3.1"/><circle cx="617.4" cy="204.2" r="3.1"/><circle cx="621.8" cy="205.7" r="3.1"/><circle cx="627.6" cy="204.2" r="3.1"/><circle cx="633.4" cy="205.7" r="3.1"/><circle cx="637.8" cy="202.7" r="3.1"/><circle cx="542.9" cy="213.0" r="3.1"/><circle cx="548.8" cy="214.4" r="3.1"/><circle cx="554.6" cy="213.0" r="3.1"/><circle cx="560.4" cy="213.0" r="3.1"/><circle cx="564.8" cy="215.9" r="3.1"/><circle cx="573.6" cy="210.0" r="3.1"/><circle cx="578.0" cy="213.0" r="3.1"/><circle cx="582.3" cy="215.9" r="3.1"/><circle cx="586.7" cy="211.5" r="3.1"/><circle cx="591.1" cy="210.0" r="3.1"/><circle cx="595.5" cy="208.6" r="3.1"/><circle cx="601.3" cy="213.0" r="3.1"/><circle cx="604.2" cy="211.5" r="3.1"/><circle cx="610.1" cy="210.0" r="3.1"/><circle cx="615.9" cy="213.0" r="3.1"/><circle cx="620.3" cy="210.0" r="3.1"/><circle cx="626.1" cy="211.5" r="3.1"/><circle cx="630.5" cy="210.0" r="3.1"/><circle cx="634.9" cy="214.4" r="3.1"/><circle cx="547.3" cy="217.3" r="3.1"/><circle cx="556.1" cy="218.8" r="3.1"/><circle cx="561.9" cy="220.3" r="3.1"/><circle cx="566.3" cy="221.7" r="3.1"/><circle cx="569.2" cy="218.8" r="3.1"/><circle cx="580.9" cy="217.3" r="3.1"/><circle cx="583.8" cy="220.3" r="3.1"/><circle cx="588.2" cy="218.8" r="3.1"/><circle cx="592.6" cy="221.7" r="3.1"/><circle cx="598.4" cy="221.7" r="3.1"/><circle cx="604.2" cy="217.3" r="3.1"/><circle cx="610.1" cy="217.3" r="3.1"/><circle cx="615.9" cy="218.8" r="3.1"/><circle cx="620.3" cy="220.3" r="3.1"/><circle cx="624.7" cy="223.2" r="3.1"/><circle cx="630.5" cy="218.8" r="3.1"/><circle cx="636.4" cy="220.3" r="3.1"/><circle cx="541.5" cy="227.6" r="3.1"/><circle cx="547.3" cy="230.5" r="3.1"/><circle cx="559.0" cy="229.0" r="3.1"/><circle cx="561.9" cy="226.1" r="3.1"/><circle cx="566.3" cy="224.6" r="3.1"/><circle cx="569.2" cy="227.6" r="3.1"/><circle cx="570.7" cy="231.9" r="3.1"/><circle cx="559.0" cy="233.4" r="3.1"/><circle cx="591.1" cy="225.4" r="3.1"/><circle cx="607.2" cy="224.6" r="3.1"/><circle cx="611.5" cy="227.6" r="3.1"/><circle cx="615.9" cy="229.0" r="3.1"/><circle cx="630.5" cy="228.3" r="3.1"/><circle cx="634.9" cy="227.6" r="3.1"/><circle cx="639.3" cy="230.5" r="3.1"/><circle cx="623.2" cy="225.4" r="3.1"/><circle cx="544.4" cy="239.2" r="3.1"/><circle cx="559.0" cy="241.4" r="3.1"/><circle cx="576.5" cy="242.2" r="3.1"/><circle cx="580.1" cy="246.5" r="3.1"/><circle cx="588.9" cy="245.5" r="3.1"/><circle cx="627.6" cy="246.2" r="3.1"/><circle cx="562.6" cy="249.5" r="3.1"/><circle cx="541.5" cy="252.4" r="3.1"/><circle cx="541.5" cy="255.3" r="3.1"/><circle cx="556.1" cy="255.3" r="3.1"/><circle cx="550.2" cy="258.2" r="3.1"/><circle cx="557.5" cy="262.6" r="3.1"/><circle cx="561.9" cy="261.9" r="3.1"/><circle cx="553.1" cy="264.1" r="3.1"/><circle cx="588.9" cy="256.0" r="3.1"/><circle cx="591.8" cy="262.6" r="3.1"/><circle cx="621.8" cy="260.4" r="3.1"/><circle cx="550.2" cy="268.4" r="3.1"/><circle cx="548.8" cy="271.4" r="3.1"/><circle cx="586.0" cy="271.4" r="3.1"/><circle cx="541.5" cy="272.8" r="3.1"/><circle cx="642.8" cy="184.8" r="3.1"/><circle cx="645.5" cy="192.2" r="3.1"/><circle cx="643.5" cy="201.0" r="3.1"/><circle cx="650.2" cy="198.3" r="3.1"/><circle cx="653.6" cy="196.9" r="3.1"/><circle cx="657.6" cy="194.9" r="3.1"/><circle cx="647.5" cy="203.7" r="3.1"/><circle cx="650.2" cy="206.4" r="3.1"/><circle cx="648.9" cy="210.4" r="3.1"/><circle cx="654.2" cy="209.1" r="3.1"/><circle cx="648.9" cy="226.6" r="3.1"/><circle cx="642.8" cy="227.9" r="3.1"/><circle cx="642.8" cy="232.6" r="3.1"/><circle cx="645.5" cy="240.0" r="3.1"/><circle cx="470.1" cy="279.0" r="3.1"/><circle cx="484.7" cy="276.9" r="3.1"/><circle cx="490.8" cy="276.4" r="3.1"/><circle cx="496.9" cy="282.5" r="3.1"/><circle cx="461.0" cy="294.8" r="3.1"/><circle cx="487.8" cy="291.3" r="3.1"/><circle cx="514.8" cy="279.0" r="3.1"/><circle cx="523.7" cy="277.8" r="3.1"/><circle cx="517.6" cy="290.4" r="3.1"/><circle cx="544.2" cy="298.3" r="3.1"/><circle cx="574.3" cy="296.5" r="3.1"/></g>
<g fill="#3a75ba"><circle cx="463.1" cy="217.5" r="3.1"/><circle cx="466.3" cy="216.4" r="3.1"/><circle cx="472.0" cy="214.6" r="3.1"/><circle cx="477.9" cy="214.9" r="3.1"/><circle cx="495.8" cy="211.8" r="3.1"/><circle cx="498.8" cy="210.7" r="3.1"/><circle cx="506.0" cy="208.6" r="3.1"/><circle cx="516.2" cy="206.7" r="3.1"/><circle cx="519.7" cy="204.6" r="3.1"/><circle cx="525.5" cy="203.5" r="3.1"/><circle cx="531.0" cy="201.9" r="3.1"/><circle cx="534.0" cy="200.4" r="3.1"/><circle cx="539.3" cy="199.1" r="3.1"/><circle cx="545.5" cy="197.7" r="3.1"/><circle cx="549.7" cy="196.6" r="3.1"/><circle cx="555.6" cy="196.7" r="3.1"/><circle cx="560.5" cy="193.7" r="3.1"/><circle cx="565.0" cy="194.1" r="3.1"/><circle cx="570.1" cy="192.2" r="3.1"/><circle cx="580.0" cy="189.3" r="3.1"/><circle cx="584.4" cy="189.6" r="3.1"/><circle cx="589.4" cy="187.5" r="3.1"/><circle cx="595.8" cy="184.9" r="3.1"/><circle cx="599.8" cy="185.4" r="3.1"/><circle cx="606.1" cy="183.7" r="3.1"/><circle cx="609.5" cy="183.2" r="3.1"/><circle cx="614.6" cy="181.6" r="3.1"/><circle cx="619.4" cy="180.0" r="3.1"/><circle cx="624.8" cy="178.2" r="3.1"/><circle cx="629.0" cy="178.2" r="3.1"/><circle cx="639.7" cy="172.9" r="3.1"/><circle cx="498.0" cy="205.0" r="3.1"/><circle cx="523.1" cy="199.9" r="3.1"/><circle cx="526.3" cy="198.1" r="3.1"/><circle cx="536.4" cy="195.3" r="3.1"/><circle cx="543.7" cy="194.2" r="3.1"/><circle cx="552.4" cy="193.0" r="3.1"/><circle cx="557.5" cy="191.0" r="3.1"/><circle cx="572.4" cy="187.9" r="3.1"/><circle cx="583.0" cy="184.5" r="3.1"/><circle cx="618.0" cy="175.4" r="3.1"/><circle cx="643.1" cy="167.3" r="3.1"/><circle cx="469.3" cy="233.5" r="3.1"/><circle cx="475.6" cy="231.4" r="3.1"/><circle cx="486.0" cy="227.8" r="3.1"/><circle cx="491.2" cy="225.5" r="3.1"/><circle cx="495.1" cy="226.0" r="3.1"/><circle cx="501.1" cy="224.2" r="3.1"/><circle cx="505.3" cy="223.4" r="3.1"/><circle cx="509.5" cy="222.1" r="3.1"/><circle cx="514.7" cy="221.0" r="3.1"/><circle cx="519.5" cy="218.5" r="3.1"/><circle cx="525.8" cy="217.7" r="3.1"/><circle cx="530.5" cy="216.7" r="3.1"/><circle cx="534.7" cy="214.9" r="3.1"/><circle cx="540.1" cy="214.4" r="3.1"/><circle cx="544.0" cy="213.2" r="3.1"/><circle cx="549.8" cy="210.5" r="3.1"/><circle cx="554.5" cy="209.6" r="3.1"/><circle cx="560.0" cy="208.2" r="3.1"/><circle cx="564.8" cy="207.2" r="3.1"/><circle cx="570.7" cy="206.5" r="3.1"/><circle cx="575.8" cy="204.9" r="3.1"/><circle cx="579.7" cy="204.3" r="3.1"/><circle cx="584.7" cy="202.7" r="3.1"/><circle cx="591.2" cy="201.6" r="3.1"/><circle cx="594.1" cy="200.3" r="3.1"/><circle cx="599.0" cy="198.7" r="3.1"/><circle cx="606.0" cy="197.9" r="3.1"/><circle cx="615.9" cy="194.9" r="3.1"/><circle cx="618.9" cy="194.6" r="3.1"/><circle cx="625.4" cy="191.9" r="3.1"/><circle cx="630.8" cy="191.3" r="3.1"/><circle cx="634.6" cy="189.4" r="3.1"/><circle cx="639.6" cy="189.7" r="3.1"/><circle cx="649.6" cy="188.0" r="3.1"/><circle cx="654.7" cy="187.2" r="3.1"/><circle cx="659.0" cy="185.7" r="3.1"/><circle cx="481.6" cy="232.1" r="3.1"/><circle cx="488.1" cy="232.0" r="3.1"/><circle cx="492.1" cy="231.1" r="3.1"/><circle cx="497.4" cy="229.1" r="3.1"/><circle cx="503.7" cy="228.2" r="3.1"/><circle cx="526.4" cy="222.4" r="3.1"/><circle cx="532.8" cy="219.9" r="3.1"/><circle cx="537.7" cy="219.6" r="3.1"/><circle cx="543.0" cy="218.4" r="3.1"/><circle cx="547.2" cy="217.1" r="3.1"/><circle cx="552.0" cy="215.5" r="3.1"/><circle cx="556.6" cy="214.7" r="3.1"/><circle cx="563.6" cy="212.3" r="3.1"/><circle cx="567.0" cy="210.8" r="3.1"/><circle cx="573.1" cy="210.5" r="3.1"/><circle cx="576.6" cy="208.8" r="3.1"/><circle cx="592.1" cy="205.5" r="3.1"/><circle cx="596.6" cy="204.3" r="3.1"/><circle cx="611.6" cy="201.1" r="3.1"/><circle cx="623.6" cy="196.3" r="3.1"/><circle cx="626.4" cy="196.6" r="3.1"/><circle cx="633.7" cy="194.3" r="3.1"/><circle cx="637.9" cy="194.1" r="3.1"/></g>
<g fill="none" stroke-linecap="butt">
<path d="M452.3 223.2 L462.7 220.6 L470.3 218.7 L473.1 218.7 L480.3 218.6 L483.5 217.8 L493.9 215.2 L504.3 212.6 L514.7 210.0 L525.1 207.3 L535.5 204.7 L545.9 202.1 L556.3 199.5 L566.7 196.8 L577.1 194.2 L587.5 191.6 L597.9 189.0 L608.3 186.3 L618.7 183.7 L629.1 181.1 L635.3 179.5 L639.5 177.4 L645.3 174.4 L649.9 173.2 L660.3 170.6" stroke="#b5432b" stroke-width="3.2"/>
<path d="M452.3 234.6 L462.7 232.0 L470.3 230.1 L473.1 228.7 L480.3 225.0 L483.5 224.2 L493.9 221.6 L504.3 219.0 L514.7 216.3 L525.1 213.7 L535.5 211.1 L545.9 208.5 L556.3 205.8 L566.7 203.2 L577.1 200.6 L587.5 198.0 L597.9 195.3 L608.3 192.7 L618.7 190.1 L629.1 187.5 L635.3 185.9 L639.5 185.9 L645.3 186.0 L649.9 184.8 L660.3 182.2" stroke="#b5432b" stroke-width="3.2"/>
<line x1="452.3" y1="228.9" x2="660.3" y2="176.4" stroke="#b5432b" stroke-width="5"/>
</g>
<line x1="429.2" y1="197.7" x2="684.2" y2="197.7" stroke="#1a1a1a" stroke-width="3.5" stroke-dasharray="20.2 8.2"/>
<rect x="429.2" y="68.2" width="255.0" height="259.8" fill="none" stroke="#2e2e2e" stroke-width="1.25"/>
<path d="M458.9 328.0v-2.6M458.9 68.2v2.6M518.2 328.0v-2.6M518.2 68.2v2.6M577.6 328.0v-2.6M577.6 68.2v2.6M637.0 328.0v-2.6M637.0 68.2v2.6M429.2 68.2h2.6M684.2 68.2h-2.6M429.2 133.2h2.6M684.2 133.2h-2.6M429.2 198.1h2.6M684.2 198.1h-2.6M429.2 263.1h2.6M684.2 263.1h-2.6M429.2 328.0h2.6M684.2 328.0h-2.6" stroke="#2e2e2e" stroke-width="1.1" fill="none"/>
<text id="xt1_20" transform="translate(458.88,345.20)" font-size="15" text-anchor="middle">20</text>
<text id="xt1_40" transform="translate(518.24,345.20)" font-size="15" text-anchor="middle">40</text>
<text id="xt1_60" transform="translate(577.60,345.20)" font-size="15" text-anchor="middle">60</text>
<text id="xt1_80" transform="translate(636.96,345.20)" font-size="15" text-anchor="middle">80</text>
<text id="yt1_140" transform="translate(422.00,74.40)" font-size="15" text-anchor="end">140</text>
<text id="yt1_120" transform="translate(422.00,139.35)" font-size="15" text-anchor="end">120</text>
<text id="yt1_100" transform="translate(422.00,204.30)" font-size="15" text-anchor="end">100</text>
<text id="yt1_80" transform="translate(422.00,269.25)" font-size="15" text-anchor="end">80</text>
<text id="yt1_60" transform="translate(422.00,334.20)" font-size="15" text-anchor="end">60</text>
<text id="xl1" transform="translate(556.70,367.60)" font-size="15" text-anchor="middle">Age (years)</text>
<text id="yl1" transform="translate(383.50,199.50) rotate(-90)" font-size="15" text-anchor="middle">Cumulative delay (%)</text>
<text id="ti1" transform="translate(556.50,13.10)" font-size="15" text-anchor="middle">Cumulative delay</text>
<text id="l2_1" transform="translate(557.00,37.20)" font-size="15" text-anchor="middle" textLength="169.00" lengthAdjust="spacing"><tspan font-style="italic">R</tspan><tspan font-size="10" dy="-5.6">2</tspan><tspan dy="5.6">=0.15 </tspan><tspan font-style="italic">N</tspan>=577 <tspan font-style="italic">P</tspan>=0.000</text>
<text id="l3_1" transform="translate(556.50,55.60)" font-size="15" text-anchor="middle" textLength="210.80" lengthAdjust="spacing"><tspan font-style="italic">y</tspan>=86 [83,89] +0.24<tspan font-style="italic">x</tspan> [0.19,0.28]</text>
<g fill="#3a75ba"><circle cx="165.7" cy="441.2" r="3.1"/><circle cx="174.5" cy="440.0" r="3.1"/><circle cx="192.3" cy="451.4" r="3.1"/><circle cx="132.8" cy="457.8" r="3.1"/><circle cx="159.1" cy="461.6" r="3.1"/><circle cx="162.5" cy="462.2" r="3.1"/><circle cx="174.5" cy="466.3" r="3.1"/><circle cx="127.0" cy="475.3" r="3.1"/><circle cx="195.2" cy="472.1" r="3.1"/><circle cx="112.0" cy="486.0" r="3.1"/><circle cx="129.9" cy="485.0" r="3.1"/><circle cx="132.8" cy="488.9" r="3.1"/><circle cx="159.4" cy="486.4" r="3.1"/><circle cx="192.3" cy="486.7" r="3.1"/><circle cx="195.2" cy="492.3" r="3.1"/><circle cx="195.6" cy="502.5" r="3.1"/><circle cx="192.3" cy="505.7" r="3.1"/><circle cx="129.9" cy="512.6" r="3.1"/><circle cx="147.7" cy="508.9" r="3.1"/><circle cx="153.7" cy="512.3" r="3.1"/><circle cx="147.7" cy="516.2" r="3.1"/><circle cx="141.9" cy="520.0" r="3.1"/><circle cx="112.0" cy="519.6" r="3.1"/><circle cx="114.9" cy="524.4" r="3.1"/><circle cx="150.7" cy="525.7" r="3.1"/><circle cx="156.6" cy="522.5" r="3.1"/><circle cx="156.6" cy="527.6" r="3.1"/><circle cx="162.8" cy="530.2" r="3.1"/><circle cx="165.7" cy="528.0" r="3.1"/><circle cx="171.5" cy="530.2" r="3.1"/><circle cx="150.7" cy="533.0" r="3.1"/><circle cx="177.4" cy="533.4" r="3.1"/><circle cx="180.3" cy="534.9" r="3.1"/><circle cx="183.9" cy="535.6" r="3.1"/><circle cx="174.5" cy="536.4" r="3.1"/><circle cx="197.8" cy="533.4" r="3.1"/><circle cx="197.8" cy="537.8" r="3.1"/><circle cx="114.9" cy="537.8" r="3.1"/><circle cx="127.0" cy="536.6" r="3.1"/><circle cx="165.7" cy="536.4" r="3.1"/><circle cx="159.9" cy="539.3" r="3.1"/><circle cx="151.1" cy="540.0" r="3.1"/><circle cx="170.1" cy="538.5" r="3.1"/><circle cx="251.8" cy="443.2" r="3.1"/><circle cx="278.8" cy="442.2" r="3.1"/><circle cx="298.5" cy="441.8" r="3.1"/><circle cx="207.0" cy="450.9" r="3.1"/><circle cx="246.0" cy="450.5" r="3.1"/><circle cx="251.8" cy="453.4" r="3.1"/><circle cx="258.4" cy="454.2" r="3.1"/><circle cx="261.3" cy="453.4" r="3.1"/><circle cx="284.7" cy="449.2" r="3.1"/><circle cx="251.8" cy="464.8" r="3.1"/><circle cx="255.2" cy="470.9" r="3.1"/><circle cx="281.8" cy="463.4" r="3.1"/><circle cx="290.5" cy="462.6" r="3.1"/><circle cx="281.8" cy="469.9" r="3.1"/><circle cx="281.8" cy="473.6" r="3.1"/><circle cx="290.5" cy="472.4" r="3.1"/><circle cx="293.4" cy="478.0" r="3.1"/><circle cx="297.1" cy="480.9" r="3.1"/><circle cx="221.9" cy="474.3" r="3.1"/><circle cx="243.1" cy="478.7" r="3.1"/><circle cx="278.8" cy="482.6" r="3.1"/><circle cx="287.6" cy="485.0" r="3.1"/><circle cx="216.1" cy="486.0" r="3.1"/><circle cx="216.1" cy="488.9" r="3.1"/><circle cx="231.4" cy="486.4" r="3.1"/><circle cx="235.0" cy="491.1" r="3.1"/><circle cx="240.1" cy="487.0" r="3.1"/><circle cx="243.1" cy="494.3" r="3.1"/><circle cx="237.2" cy="491.1" r="3.1"/><circle cx="225.1" cy="494.7" r="3.1"/><circle cx="297.8" cy="488.2" r="3.1"/><circle cx="251.8" cy="498.1" r="3.1"/><circle cx="246.4" cy="501.0" r="3.1"/><circle cx="251.8" cy="502.0" r="3.1"/><circle cx="261.0" cy="499.9" r="3.1"/><circle cx="261.0" cy="505.0" r="3.1"/><circle cx="270.1" cy="496.6" r="3.1"/><circle cx="268.6" cy="505.4" r="3.1"/><circle cx="273.0" cy="504.2" r="3.1"/><circle cx="287.6" cy="498.4" r="3.1"/><circle cx="293.4" cy="494.0" r="3.1"/><circle cx="296.4" cy="495.5" r="3.1"/><circle cx="293.4" cy="499.9" r="3.1"/><circle cx="296.4" cy="504.2" r="3.1"/><circle cx="290.5" cy="502.8" r="3.1"/><circle cx="228.0" cy="506.7" r="3.1"/><circle cx="237.2" cy="512.6" r="3.1"/><circle cx="233.6" cy="517.4" r="3.1"/><circle cx="240.1" cy="518.8" r="3.1"/><circle cx="243.1" cy="523.2" r="3.1"/><circle cx="248.9" cy="513.7" r="3.1"/><circle cx="260.6" cy="515.2" r="3.1"/><circle cx="264.2" cy="516.6" r="3.1"/><circle cx="275.9" cy="508.6" r="3.1"/><circle cx="280.3" cy="511.5" r="3.1"/><circle cx="284.7" cy="508.6" r="3.1"/><circle cx="287.6" cy="513.0" r="3.1"/><circle cx="290.5" cy="515.9" r="3.1"/><circle cx="281.8" cy="517.4" r="3.1"/><circle cx="287.6" cy="519.6" r="3.1"/><circle cx="297.8" cy="510.8" r="3.1"/><circle cx="207.3" cy="518.1" r="3.1"/><circle cx="211.7" cy="520.3" r="3.1"/><circle cx="214.6" cy="521.8" r="3.1"/><circle cx="217.5" cy="524.7" r="3.1"/><circle cx="208.8" cy="526.1" r="3.1"/><circle cx="213.1" cy="527.6" r="3.1"/><circle cx="219.0" cy="529.1" r="3.1"/><circle cx="221.9" cy="518.8" r="3.1"/><circle cx="228.5" cy="521.8" r="3.1"/><circle cx="234.3" cy="523.9" r="3.1"/><circle cx="258.4" cy="522.5" r="3.1"/><circle cx="270.1" cy="524.7" r="3.1"/><circle cx="273.0" cy="521.0" r="3.1"/><circle cx="281.8" cy="523.9" r="3.1"/><circle cx="296.4" cy="524.7" r="3.1"/><circle cx="240.9" cy="527.6" r="3.1"/><circle cx="248.2" cy="530.5" r="3.1"/><circle cx="252.6" cy="529.8" r="3.1"/><circle cx="249.6" cy="534.9" r="3.1"/><circle cx="210.2" cy="532.7" r="3.1"/><circle cx="214.6" cy="534.9" r="3.1"/><circle cx="221.9" cy="533.4" r="3.1"/><circle cx="226.3" cy="536.4" r="3.1"/><circle cx="232.1" cy="536.4" r="3.1"/><circle cx="204.4" cy="537.1" r="3.1"/><circle cx="275.9" cy="528.3" r="3.1"/><circle cx="278.8" cy="527.6" r="3.1"/><circle cx="283.2" cy="533.4" r="3.1"/><circle cx="290.5" cy="534.9" r="3.1"/><circle cx="296.4" cy="533.4" r="3.1"/><circle cx="314.3" cy="448.4" r="3.1"/><circle cx="305.5" cy="469.0" r="3.1"/><circle cx="300.1" cy="481.1" r="3.1"/><circle cx="305.5" cy="487.4" r="3.1"/><circle cx="308.9" cy="487.4" r="3.1"/><circle cx="311.6" cy="487.4" r="3.1"/><circle cx="302.4" cy="493.9" r="3.1"/><circle cx="314.3" cy="498.6" r="3.1"/><circle cx="302.4" cy="504.0" r="3.1"/><circle cx="317.4" cy="507.0" r="3.1"/><circle cx="304.8" cy="533.0" r="3.1"/><circle cx="108.8" cy="547.3" r="3.1"/><circle cx="108.8" cy="550.9" r="3.1"/><circle cx="130.7" cy="543.6" r="3.1"/><circle cx="133.6" cy="545.8" r="3.1"/><circle cx="138.7" cy="544.4" r="3.1"/><circle cx="148.2" cy="542.9" r="3.1"/><circle cx="151.1" cy="546.6" r="3.1"/><circle cx="152.6" cy="548.8" r="3.1"/><circle cx="165.7" cy="546.6" r="3.1"/><circle cx="173.0" cy="542.9" r="3.1"/><circle cx="177.4" cy="542.2" r="3.1"/><circle cx="181.8" cy="543.6" r="3.1"/><circle cx="187.6" cy="542.9" r="3.1"/><circle cx="192.0" cy="545.1" r="3.1"/><circle cx="196.4" cy="542.9" r="3.1"/><circle cx="174.5" cy="550.9" r="3.1"/><circle cx="177.4" cy="553.1" r="3.1"/><circle cx="183.2" cy="554.6" r="3.1"/><circle cx="187.6" cy="551.7" r="3.1"/><circle cx="193.4" cy="548.8" r="3.1"/><circle cx="123.4" cy="556.1" r="3.1"/><circle cx="126.3" cy="559.0" r="3.1"/><circle cx="129.2" cy="555.3" r="3.1"/><circle cx="133.6" cy="557.5" r="3.1"/><circle cx="138.0" cy="554.6" r="3.1"/><circle cx="142.3" cy="551.7" r="3.1"/><circle cx="146.7" cy="550.2" r="3.1"/><circle cx="140.9" cy="559.0" r="3.1"/><circle cx="143.8" cy="561.9" r="3.1"/><circle cx="148.2" cy="557.5" r="3.1"/><circle cx="152.6" cy="556.1" r="3.1"/><circle cx="156.9" cy="558.2" r="3.1"/><circle cx="161.3" cy="556.8" r="3.1"/><circle cx="165.7" cy="555.3" r="3.1"/><circle cx="155.5" cy="561.9" r="3.1"/><circle cx="151.1" cy="562.6" r="3.1"/><circle cx="135.0" cy="564.8" r="3.1"/><circle cx="173.0" cy="561.9" r="3.1"/><circle cx="178.8" cy="560.4" r="3.1"/><circle cx="193.4" cy="566.3" r="3.1"/><circle cx="196.4" cy="569.2" r="3.1"/><circle cx="117.5" cy="583.8" r="3.1"/><circle cx="108.8" cy="588.9" r="3.1"/><circle cx="130.7" cy="582.3" r="3.1"/><circle cx="135.0" cy="586.7" r="3.1"/><circle cx="140.9" cy="583.8" r="3.1"/><circle cx="145.3" cy="588.2" r="3.1"/><circle cx="136.5" cy="591.1" r="3.1"/><circle cx="135.0" cy="594.0" r="3.1"/><circle cx="155.5" cy="579.4" r="3.1"/><circle cx="158.4" cy="583.8" r="3.1"/><circle cx="155.5" cy="588.2" r="3.1"/><circle cx="162.8" cy="579.4" r="3.1"/><circle cx="168.6" cy="578.0" r="3.1"/><circle cx="173.0" cy="575.0" r="3.1"/><circle cx="175.9" cy="579.4" r="3.1"/><circle cx="178.8" cy="572.1" r="3.1"/><circle cx="181.8" cy="576.5" r="3.1"/><circle cx="186.1" cy="573.6" r="3.1"/><circle cx="190.5" cy="578.0" r="3.1"/><circle cx="194.9" cy="575.0" r="3.1"/><circle cx="197.8" cy="580.9" r="3.1"/><circle cx="165.7" cy="586.7" r="3.1"/><circle cx="170.1" cy="583.8" r="3.1"/><circle cx="175.9" cy="585.3" r="3.1"/><circle cx="181.8" cy="588.2" r="3.1"/><circle cx="186.1" cy="585.3" r="3.1"/><circle cx="189.1" cy="582.3" r="3.1"/><circle cx="193.4" cy="586.7" r="3.1"/><circle cx="148.2" cy="591.1" r="3.1"/><circle cx="152.6" cy="595.5" r="3.1"/><circle cx="156.9" cy="592.6" r="3.1"/><circle cx="161.3" cy="594.0" r="3.1"/><circle cx="165.7" cy="596.9" r="3.1"/><circle cx="170.1" cy="592.6" r="3.1"/><circle cx="174.5" cy="595.5" r="3.1"/><circle cx="178.8" cy="592.6" r="3.1"/><circle cx="184.7" cy="591.1" r="3.1"/><circle cx="158.4" cy="599.9" r="3.1"/><circle cx="154.0" cy="601.3" r="3.1"/><circle cx="148.2" cy="599.9" r="3.1"/><circle cx="143.8" cy="604.2" r="3.1"/><circle cx="140.9" cy="608.6" r="3.1"/><circle cx="145.3" cy="607.2" r="3.1"/><circle cx="136.5" cy="607.2" r="3.1"/><circle cx="135.0" cy="611.5" r="3.1"/><circle cx="138.0" cy="614.5" r="3.1"/><circle cx="132.1" cy="615.9" r="3.1"/><circle cx="129.2" cy="611.5" r="3.1"/><circle cx="132.8" cy="623.2" r="3.1"/><circle cx="139.4" cy="617.4" r="3.1"/><circle cx="108.8" cy="603.1" r="3.1"/><circle cx="120.9" cy="604.2" r="3.1"/><circle cx="161.3" cy="610.1" r="3.1"/><circle cx="159.9" cy="614.5" r="3.1"/><circle cx="173.0" cy="608.6" r="3.1"/><circle cx="177.4" cy="607.2" r="3.1"/><circle cx="192.0" cy="595.5" r="3.1"/><circle cx="196.4" cy="598.4" r="3.1"/><circle cx="194.9" cy="602.8" r="3.1"/><circle cx="183.2" cy="615.2" r="3.1"/><circle cx="189.1" cy="613.0" r="3.1"/><circle cx="193.4" cy="610.1" r="3.1"/><circle cx="196.4" cy="607.2" r="3.1"/><circle cx="199.3" cy="613.0" r="3.1"/><circle cx="194.9" cy="615.9" r="3.1"/><circle cx="194.9" cy="621.8" r="3.1"/><circle cx="193.4" cy="626.1" r="3.1"/><circle cx="150.4" cy="617.1" r="3.1"/><circle cx="159.9" cy="622.9" r="3.1"/><circle cx="141.6" cy="626.1" r="3.1"/><circle cx="142.3" cy="629.1" r="3.1"/><circle cx="187.6" cy="624.7" r="3.1"/><circle cx="114.6" cy="629.3" r="3.1"/><circle cx="153.6" cy="637.1" r="3.1"/><circle cx="202.9" cy="541.5" r="3.1"/><circle cx="208.8" cy="544.4" r="3.1"/><circle cx="211.7" cy="547.3" r="3.1"/><circle cx="216.1" cy="542.9" r="3.1"/><circle cx="221.9" cy="541.5" r="3.1"/><circle cx="226.3" cy="542.9" r="3.1"/><circle cx="230.7" cy="545.8" r="3.1"/><circle cx="213.1" cy="541.5" r="3.1"/><circle cx="202.9" cy="548.8" r="3.1"/><circle cx="201.5" cy="553.1" r="3.1"/><circle cx="243.8" cy="547.3" r="3.1"/><circle cx="246.7" cy="550.2" r="3.1"/><circle cx="249.6" cy="553.1" r="3.1"/><circle cx="252.6" cy="556.1" r="3.1"/><circle cx="255.5" cy="559.0" r="3.1"/><circle cx="259.9" cy="557.5" r="3.1"/><circle cx="262.8" cy="560.4" r="3.1"/><circle cx="258.4" cy="551.7" r="3.1"/><circle cx="254.0" cy="550.2" r="3.1"/><circle cx="267.2" cy="545.8" r="3.1"/><circle cx="270.1" cy="550.2" r="3.1"/><circle cx="273.0" cy="547.3" r="3.1"/><circle cx="275.9" cy="544.4" r="3.1"/><circle cx="280.3" cy="545.8" r="3.1"/><circle cx="268.6" cy="556.1" r="3.1"/><circle cx="271.5" cy="559.0" r="3.1"/><circle cx="287.6" cy="542.9" r="3.1"/><circle cx="290.5" cy="547.3" r="3.1"/><circle cx="293.4" cy="551.7" r="3.1"/><circle cx="296.4" cy="554.6" r="3.1"/><circle cx="297.8" cy="559.0" r="3.1"/><circle cx="281.8" cy="557.5" r="3.1"/><circle cx="287.6" cy="554.6" r="3.1"/><circle cx="290.5" cy="559.0" r="3.1"/><circle cx="275.9" cy="562.6" r="3.1"/><circle cx="219.0" cy="561.9" r="3.1"/><circle cx="223.4" cy="560.4" r="3.1"/><circle cx="229.2" cy="559.7" r="3.1"/><circle cx="231.4" cy="559.0" r="3.1"/><circle cx="242.3" cy="561.9" r="3.1"/><circle cx="246.7" cy="561.9" r="3.1"/><circle cx="243.8" cy="567.7" r="3.1"/><circle cx="248.2" cy="568.5" r="3.1"/><circle cx="221.9" cy="567.7" r="3.1"/><circle cx="233.6" cy="569.9" r="3.1"/><circle cx="258.4" cy="569.2" r="3.1"/><circle cx="262.8" cy="570.7" r="3.1"/><circle cx="267.2" cy="569.2" r="3.1"/><circle cx="287.6" cy="566.3" r="3.1"/><circle cx="290.5" cy="570.7" r="3.1"/><circle cx="293.4" cy="569.2" r="3.1"/><circle cx="297.8" cy="570.7" r="3.1"/><circle cx="287.6" cy="575.0" r="3.1"/><circle cx="284.7" cy="580.1" r="3.1"/><circle cx="289.1" cy="583.8" r="3.1"/><circle cx="293.4" cy="585.3" r="3.1"/><circle cx="201.5" cy="570.7" r="3.1"/><circle cx="205.8" cy="573.6" r="3.1"/><circle cx="202.9" cy="578.0" r="3.1"/><circle cx="201.5" cy="582.3" r="3.1"/><circle cx="204.4" cy="583.8" r="3.1"/><circle cx="201.5" cy="588.2" r="3.1"/><circle cx="201.5" cy="592.6" r="3.1"/><circle cx="210.2" cy="573.6" r="3.1"/><circle cx="226.3" cy="573.6" r="3.1"/><circle cx="229.2" cy="572.8" r="3.1"/><circle cx="219.0" cy="578.0" r="3.1"/><circle cx="216.1" cy="583.1" r="3.1"/><circle cx="236.5" cy="575.8" r="3.1"/><circle cx="240.1" cy="577.2" r="3.1"/><circle cx="248.2" cy="580.1" r="3.1"/><circle cx="251.8" cy="582.3" r="3.1"/><circle cx="264.2" cy="580.9" r="3.1"/><circle cx="263.5" cy="585.3" r="3.1"/><circle cx="267.2" cy="583.8" r="3.1"/><circle cx="266.4" cy="589.6" r="3.1"/><circle cx="272.3" cy="584.5" r="3.1"/><circle cx="254.7" cy="588.2" r="3.1"/><circle cx="233.6" cy="586.7" r="3.1"/><circle cx="240.1" cy="588.2" r="3.1"/><circle cx="219.0" cy="591.1" r="3.1"/><circle cx="224.8" cy="591.1" r="3.1"/><circle cx="224.8" cy="594.7" r="3.1"/><circle cx="228.5" cy="599.1" r="3.1"/><circle cx="248.9" cy="594.0" r="3.1"/><circle cx="258.1" cy="597.4" r="3.1"/><circle cx="216.1" cy="598.4" r="3.1"/><circle cx="206.6" cy="600.6" r="3.1"/><circle cx="210.2" cy="603.5" r="3.1"/><circle cx="290.5" cy="599.1" r="3.1"/><circle cx="200.7" cy="607.2" r="3.1"/><circle cx="216.1" cy="608.9" r="3.1"/><circle cx="221.9" cy="609.8" r="3.1"/><circle cx="242.8" cy="606.9" r="3.1"/><circle cx="254.7" cy="606.4" r="3.1"/><circle cx="290.5" cy="617.4" r="3.1"/><circle cx="258.1" cy="627.2" r="3.1"/><circle cx="264.2" cy="626.9" r="3.1"/><circle cx="234.0" cy="635.9" r="3.1"/><circle cx="302.1" cy="542.8" r="3.1"/><circle cx="308.6" cy="563.0" r="3.1"/><circle cx="311.6" cy="569.8" r="3.1"/><circle cx="305.5" cy="573.8" r="3.1"/><circle cx="308.6" cy="597.4" r="3.1"/><circle cx="300.8" cy="539.4" r="3.1"/><circle cx="174.3" cy="648.4" r="3.1"/><circle cx="177.8" cy="650.0" r="3.1"/><circle cx="186.2" cy="667.4" r="3.1"/><circle cx="219.1" cy="659.8" r="3.1"/><circle cx="242.8" cy="644.3" r="3.1"/><circle cx="266.3" cy="641.9" r="3.1"/><circle cx="270.0" cy="640.6" r="3.1"/><circle cx="263.8" cy="653.1" r="3.1"/><circle cx="281.6" cy="678.4" r="3.1"/></g>
<g fill="#3a75ba"><circle cx="239.7" cy="552.7" r="3.1"/><circle cx="244.0" cy="552.3" r="3.1"/><circle cx="249.4" cy="551.0" r="3.1"/><circle cx="254.5" cy="549.3" r="3.1"/><circle cx="260.7" cy="548.3" r="3.1"/><circle cx="265.4" cy="545.8" r="3.1"/><circle cx="272.2" cy="546.2" r="3.1"/><circle cx="276.1" cy="547.1" r="3.1"/><circle cx="287.2" cy="545.4" r="3.1"/><circle cx="291.0" cy="543.5" r="3.1"/><circle cx="296.7" cy="543.1" r="3.1"/><circle cx="303.3" cy="541.4" r="3.1"/><circle cx="312.8" cy="537.2" r="3.1"/><circle cx="319.0" cy="535.7" r="3.1"/><circle cx="149.1" cy="582.4" r="3.1"/><circle cx="154.3" cy="579.9" r="3.1"/><circle cx="163.8" cy="574.5" r="3.1"/><circle cx="171.0" cy="571.6" r="3.1"/><circle cx="175.3" cy="569.8" r="3.1"/><circle cx="179.2" cy="569.8" r="3.1"/><circle cx="183.9" cy="568.4" r="3.1"/><circle cx="189.2" cy="566.5" r="3.1"/><circle cx="196.2" cy="564.3" r="3.1"/><circle cx="201.1" cy="563.2" r="3.1"/><circle cx="203.9" cy="562.7" r="3.1"/></g>
<g fill="none" stroke-linecap="butt">
<path d="M109.3 573.5 L119.7 570.7 L130.1 568.0 L140.5 565.2 L150.9 562.4 L157.3 560.7 L161.3 561.5 L167.3 562.6 L171.7 561.4 L182.1 558.7 L192.5 555.9 L202.9 553.1 L213.3 550.3 L223.7 547.6 L234.1 544.8 L244.5 542.0 L254.9 539.2 L265.3 536.5 L269.3 535.4 L275.7 531.0 L279.3 528.5 L286.1 526.7 L296.5 523.9 L306.9 521.2 L317.3 518.4" stroke="#b5432b" stroke-width="3.2"/>
<path d="M109.3 589.1 L119.7 586.3 L130.1 583.5 L140.5 580.8 L150.9 578.0 L157.3 576.3 L161.3 573.4 L167.3 569.0 L171.7 567.9 L182.1 565.1 L192.5 562.3 L202.9 559.5 L213.3 556.8 L223.7 554.0 L234.1 551.2 L244.5 548.4 L254.9 545.6 L265.3 542.9 L269.3 541.8 L275.7 542.8 L279.3 543.3 L286.1 541.5 L296.5 538.7 L306.9 536.0 L317.3 533.2" stroke="#b5432b" stroke-width="3.2"/>
<line x1="109.3" y1="581.3" x2="317.3" y2="525.8" stroke="#b5432b" stroke-width="5"/>
</g>
<line x1="85.6" y1="567.0" x2="341.5" y2="567.0" stroke="#1a1a1a" stroke-width="3.5" stroke-dasharray="20.2 8.2"/>
<rect x="85.6" y="437.2" width="255.9" height="259.6" fill="none" stroke="#2e2e2e" stroke-width="1.25"/>
<path d="M115.3 696.8v-2.6M115.3 437.2v2.6M174.6 696.8v-2.6M174.6 437.2v2.6M234.0 696.8v-2.6M234.0 437.2v2.6M293.4 696.8v-2.6M293.4 437.2v2.6M85.6 447.2h2.6M341.5 447.2h-2.6M85.6 487.1h2.6M341.5 487.1h-2.6M85.6 527.1h2.6M341.5 527.1h-2.6M85.6 567.0h2.6M341.5 567.0h-2.6M85.6 606.9h2.6M341.5 606.9h-2.6M85.6 646.9h2.6M341.5 646.9h-2.6M85.6 686.8h2.6M341.5 686.8h-2.6" stroke="#2e2e2e" stroke-width="1.1" fill="none"/>
<text id="xt2_20" transform="translate(115.28,715.60)" font-size="15" text-anchor="middle">20</text>
<text id="xt2_40" transform="translate(174.64,715.60)" font-size="15" text-anchor="middle">40</text>
<text id="xt2_60" transform="translate(234.00,715.60)" font-size="15" text-anchor="middle">60</text>
<text id="xt2_80" transform="translate(293.36,715.60)" font-size="15" text-anchor="middle">80</text>
<text id="yt2_60" transform="translate(78.40,453.38)" font-size="15" text-anchor="end">60</text>
<text id="yt2_40" transform="translate(78.40,493.32)" font-size="15" text-anchor="end">40</text>
<text id="yt2_20" transform="translate(78.40,533.26)" font-size="15" text-anchor="end">20</text>
<text id="yt2_0" transform="translate(78.40,573.20)" font-size="15" text-anchor="end">0</text>
<text id="yt2_-20" transform="translate(78.40,613.14)" font-size="15" text-anchor="end">−20</text>
<text id="yt2_-40" transform="translate(78.40,653.08)" font-size="15" text-anchor="end">−40</text>
<text id="yt2_-60" transform="translate(78.40,693.02)" font-size="15" text-anchor="end">−60</text>
<text id="xl2" transform="translate(213.55,737.90)" font-size="15" text-anchor="middle">Age (years)</text>
<text id="yl2" transform="translate(42.00,568.30) rotate(-90)" font-size="15" text-anchor="middle">Constant delay (ms)</text>
<text id="l2_2" transform="translate(213.53,406.30)" font-size="15" text-anchor="middle" textLength="168.95" lengthAdjust="spacing"><tspan font-style="italic">R</tspan><tspan font-size="10" dy="-5.6">2</tspan><tspan dy="5.6">=0.11 </tspan><tspan font-style="italic">N</tspan>=526 <tspan font-style="italic">P</tspan>=0.000</text>
<text id="l3_2" transform="translate(212.75,424.70)" font-size="15" text-anchor="middle" textLength="237.50" lengthAdjust="spacing"><tspan font-style="italic">y</tspan>=−15 [−20,−10] +0.41<tspan font-style="italic">x</tspan> [0.31,0.50]</text>
<g fill="#3a75ba"><circle cx="478.7" cy="487.0" r="3.1"/><circle cx="481.9" cy="488.2" r="3.1"/><circle cx="487.9" cy="494.5" r="3.1"/><circle cx="502.8" cy="496.9" r="3.1"/><circle cx="520.6" cy="492.8" r="3.1"/><circle cx="532.4" cy="493.3" r="3.1"/><circle cx="532.4" cy="505.7" r="3.1"/><circle cx="532.4" cy="509.8" r="3.1"/><circle cx="473.1" cy="515.9" r="3.1"/><circle cx="464.1" cy="520.0" r="3.1"/><circle cx="452.1" cy="524.7" r="3.1"/><circle cx="505.7" cy="517.8" r="3.1"/><circle cx="523.5" cy="515.6" r="3.1"/><circle cx="526.6" cy="522.9" r="3.1"/><circle cx="517.8" cy="525.4" r="3.1"/><circle cx="538.1" cy="524.4" r="3.1"/><circle cx="476.1" cy="531.5" r="3.1"/><circle cx="481.9" cy="531.5" r="3.1"/><circle cx="494.0" cy="532.0" r="3.1"/><circle cx="496.9" cy="534.2" r="3.1"/><circle cx="473.6" cy="537.1" r="3.1"/><circle cx="476.5" cy="537.8" r="3.1"/><circle cx="471.4" cy="539.3" r="3.1"/><circle cx="502.8" cy="538.5" r="3.1"/><circle cx="529.8" cy="538.5" r="3.1"/><circle cx="533.4" cy="539.3" r="3.1"/><circle cx="539.3" cy="536.4" r="3.1"/><circle cx="601.0" cy="486.0" r="3.1"/><circle cx="636.8" cy="488.9" r="3.1"/><circle cx="562.2" cy="491.4" r="3.1"/><circle cx="586.0" cy="495.9" r="3.1"/><circle cx="601.0" cy="496.2" r="3.1"/><circle cx="604.2" cy="496.6" r="3.1"/><circle cx="630.8" cy="496.9" r="3.1"/><circle cx="550.2" cy="499.6" r="3.1"/><circle cx="565.5" cy="499.1" r="3.1"/><circle cx="571.1" cy="503.5" r="3.1"/><circle cx="571.1" cy="506.4" r="3.1"/><circle cx="603.9" cy="505.7" r="3.1"/><circle cx="577.2" cy="514.9" r="3.1"/><circle cx="598.1" cy="516.9" r="3.1"/><circle cx="610.1" cy="515.2" r="3.1"/><circle cx="613.0" cy="511.5" r="3.1"/><circle cx="627.9" cy="512.7" r="3.1"/><circle cx="562.2" cy="527.2" r="3.1"/><circle cx="565.5" cy="529.8" r="3.1"/><circle cx="571.1" cy="532.3" r="3.1"/><circle cx="583.1" cy="528.0" r="3.1"/><circle cx="592.1" cy="532.7" r="3.1"/><circle cx="607.2" cy="525.4" r="3.1"/><circle cx="607.2" cy="531.5" r="3.1"/><circle cx="615.9" cy="532.4" r="3.1"/><circle cx="624.7" cy="537.1" r="3.1"/><circle cx="541.5" cy="535.6" r="3.1"/><circle cx="594.7" cy="539.3" r="3.1"/><circle cx="642.8" cy="500.9" r="3.1"/><circle cx="654.6" cy="532.6" r="3.1"/><circle cx="470.7" cy="541.5" r="3.1"/><circle cx="475.0" cy="543.6" r="3.1"/><circle cx="472.8" cy="546.6" r="3.1"/><circle cx="483.8" cy="543.6" r="3.1"/><circle cx="488.2" cy="542.9" r="3.1"/><circle cx="494.0" cy="543.6" r="3.1"/><circle cx="502.8" cy="540.7" r="3.1"/><circle cx="520.3" cy="542.9" r="3.1"/><circle cx="532.0" cy="545.8" r="3.1"/><circle cx="527.6" cy="541.5" r="3.1"/><circle cx="479.4" cy="551.7" r="3.1"/><circle cx="482.3" cy="550.2" r="3.1"/><circle cx="478.0" cy="554.6" r="3.1"/><circle cx="483.8" cy="556.1" r="3.1"/><circle cx="491.1" cy="555.3" r="3.1"/><circle cx="499.9" cy="550.2" r="3.1"/><circle cx="499.9" cy="556.1" r="3.1"/><circle cx="508.6" cy="553.1" r="3.1"/><circle cx="508.6" cy="559.0" r="3.1"/><circle cx="515.9" cy="557.5" r="3.1"/><circle cx="520.3" cy="554.6" r="3.1"/><circle cx="524.7" cy="553.1" r="3.1"/><circle cx="527.6" cy="550.2" r="3.1"/><circle cx="533.4" cy="551.7" r="3.1"/><circle cx="537.8" cy="548.8" r="3.1"/><circle cx="536.4" cy="556.1" r="3.1"/><circle cx="532.0" cy="559.0" r="3.1"/><circle cx="521.8" cy="560.4" r="3.1"/><circle cx="518.8" cy="559.0" r="3.1"/><circle cx="452.4" cy="561.9" r="3.1"/><circle cx="470.7" cy="562.6" r="3.1"/><circle cx="475.0" cy="560.4" r="3.1"/><circle cx="480.9" cy="561.9" r="3.1"/><circle cx="478.0" cy="569.2" r="3.1"/><circle cx="496.9" cy="563.4" r="3.1"/><circle cx="501.3" cy="564.8" r="3.1"/><circle cx="505.7" cy="563.4" r="3.1"/><circle cx="510.1" cy="567.7" r="3.1"/><circle cx="533.4" cy="563.4" r="3.1"/><circle cx="537.8" cy="564.8" r="3.1"/><circle cx="466.3" cy="585.3" r="3.1"/><circle cx="470.7" cy="591.1" r="3.1"/><circle cx="473.6" cy="591.8" r="3.1"/><circle cx="483.8" cy="583.8" r="3.1"/><circle cx="485.3" cy="591.1" r="3.1"/><circle cx="482.3" cy="596.9" r="3.1"/><circle cx="480.9" cy="599.9" r="3.1"/><circle cx="501.3" cy="583.8" r="3.1"/><circle cx="505.7" cy="588.2" r="3.1"/><circle cx="502.8" cy="594.0" r="3.1"/><circle cx="498.4" cy="588.2" r="3.1"/><circle cx="491.1" cy="594.0" r="3.1"/><circle cx="495.5" cy="596.9" r="3.1"/><circle cx="492.6" cy="599.9" r="3.1"/><circle cx="521.8" cy="586.7" r="3.1"/><circle cx="526.1" cy="583.8" r="3.1"/><circle cx="530.5" cy="586.7" r="3.1"/><circle cx="534.9" cy="585.3" r="3.1"/><circle cx="537.8" cy="589.6" r="3.1"/><circle cx="524.7" cy="591.1" r="3.1"/><circle cx="533.4" cy="592.6" r="3.1"/><circle cx="537.8" cy="595.5" r="3.1"/><circle cx="530.5" cy="599.9" r="3.1"/><circle cx="534.9" cy="598.4" r="3.1"/><circle cx="451.7" cy="595.5" r="3.1"/><circle cx="454.6" cy="597.2" r="3.1"/><circle cx="458.2" cy="596.6" r="3.1"/><circle cx="505.7" cy="604.2" r="3.1"/><circle cx="511.5" cy="602.8" r="3.1"/><circle cx="514.5" cy="598.4" r="3.1"/><circle cx="515.9" cy="604.2" r="3.1"/><circle cx="494.0" cy="605.7" r="3.1"/><circle cx="499.9" cy="607.2" r="3.1"/><circle cx="495.5" cy="611.5" r="3.1"/><circle cx="501.3" cy="613.0" r="3.1"/><circle cx="507.2" cy="608.6" r="3.1"/><circle cx="513.0" cy="607.2" r="3.1"/><circle cx="518.8" cy="607.2" r="3.1"/><circle cx="521.0" cy="610.1" r="3.1"/><circle cx="515.9" cy="613.0" r="3.1"/><circle cx="511.5" cy="615.9" r="3.1"/><circle cx="507.2" cy="617.4" r="3.1"/><circle cx="537.8" cy="607.2" r="3.1"/><circle cx="467.0" cy="610.8" r="3.1"/><circle cx="472.8" cy="609.3" r="3.1"/><circle cx="481.9" cy="611.5" r="3.1"/><circle cx="455.0" cy="613.7" r="3.1"/><circle cx="536.4" cy="620.3" r="3.1"/><circle cx="539.3" cy="620.3" r="3.1"/><circle cx="496.9" cy="623.5" r="3.1"/><circle cx="475.8" cy="623.2" r="3.1"/><circle cx="472.8" cy="626.1" r="3.1"/><circle cx="537.8" cy="629.1" r="3.1"/><circle cx="451.7" cy="636.4" r="3.1"/><circle cx="458.2" cy="636.4" r="3.1"/><circle cx="481.9" cy="634.9" r="3.1"/><circle cx="494.0" cy="637.1" r="3.1"/><circle cx="502.8" cy="634.2" r="3.1"/><circle cx="508.6" cy="636.4" r="3.1"/><circle cx="547.3" cy="542.2" r="3.1"/><circle cx="561.9" cy="545.8" r="3.1"/><circle cx="565.5" cy="546.6" r="3.1"/><circle cx="586.7" cy="542.9" r="3.1"/><circle cx="585.3" cy="547.3" r="3.1"/><circle cx="595.5" cy="541.5" r="3.1"/><circle cx="601.3" cy="542.9" r="3.1"/><circle cx="602.8" cy="548.8" r="3.1"/><circle cx="607.2" cy="545.8" r="3.1"/><circle cx="613.0" cy="547.3" r="3.1"/><circle cx="621.8" cy="550.9" r="3.1"/><circle cx="627.6" cy="541.5" r="3.1"/><circle cx="634.9" cy="544.4" r="3.1"/><circle cx="637.8" cy="548.8" r="3.1"/><circle cx="633.4" cy="551.7" r="3.1"/><circle cx="542.9" cy="553.1" r="3.1"/><circle cx="547.3" cy="556.1" r="3.1"/><circle cx="554.6" cy="554.6" r="3.1"/><circle cx="559.0" cy="551.7" r="3.1"/><circle cx="561.9" cy="557.5" r="3.1"/><circle cx="566.3" cy="554.6" r="3.1"/><circle cx="570.7" cy="553.1" r="3.1"/><circle cx="575.0" cy="552.4" r="3.1"/><circle cx="578.0" cy="551.7" r="3.1"/><circle cx="583.8" cy="554.6" r="3.1"/><circle cx="586.7" cy="559.0" r="3.1"/><circle cx="591.1" cy="556.1" r="3.1"/><circle cx="595.5" cy="553.1" r="3.1"/><circle cx="596.9" cy="559.0" r="3.1"/><circle cx="601.3" cy="556.1" r="3.1"/><circle cx="605.7" cy="553.1" r="3.1"/><circle cx="610.1" cy="556.1" r="3.1"/><circle cx="608.6" cy="560.4" r="3.1"/><circle cx="624.7" cy="559.0" r="3.1"/><circle cx="630.5" cy="557.5" r="3.1"/><circle cx="634.9" cy="556.1" r="3.1"/><circle cx="637.8" cy="559.0" r="3.1"/><circle cx="544.4" cy="561.9" r="3.1"/><circle cx="553.1" cy="560.4" r="3.1"/><circle cx="559.0" cy="561.9" r="3.1"/><circle cx="569.2" cy="563.4" r="3.1"/><circle cx="576.5" cy="563.4" r="3.1"/><circle cx="588.2" cy="563.4" r="3.1"/><circle cx="595.5" cy="564.8" r="3.1"/><circle cx="621.8" cy="564.8" r="3.1"/><circle cx="627.6" cy="563.4" r="3.1"/><circle cx="542.9" cy="583.8" r="3.1"/><circle cx="548.8" cy="585.3" r="3.1"/><circle cx="554.6" cy="586.7" r="3.1"/><circle cx="560.4" cy="583.8" r="3.1"/><circle cx="566.3" cy="585.3" r="3.1"/><circle cx="572.1" cy="583.8" r="3.1"/><circle cx="579.4" cy="586.7" r="3.1"/><circle cx="583.8" cy="583.8" r="3.1"/><circle cx="589.6" cy="585.3" r="3.1"/><circle cx="595.5" cy="583.8" r="3.1"/><circle cx="599.9" cy="588.2" r="3.1"/><circle cx="605.7" cy="585.3" r="3.1"/><circle cx="611.5" cy="586.7" r="3.1"/><circle cx="615.9" cy="583.8" r="3.1"/><circle cx="621.8" cy="586.7" r="3.1"/><circle cx="627.6" cy="585.3" r="3.1"/><circle cx="633.4" cy="583.8" r="3.1"/><circle cx="637.8" cy="586.7" r="3.1"/><circle cx="541.5" cy="592.6" r="3.1"/><circle cx="547.3" cy="591.1" r="3.1"/><circle cx="553.1" cy="595.5" r="3.1"/><circle cx="559.0" cy="594.0" r="3.1"/><circle cx="563.4" cy="592.6" r="3.1"/><circle cx="567.7" cy="594.0" r="3.1"/><circle cx="573.6" cy="591.1" r="3.1"/><circle cx="585.3" cy="594.0" r="3.1"/><circle cx="591.1" cy="594.0" r="3.1"/><circle cx="596.9" cy="592.6" r="3.1"/><circle cx="602.8" cy="594.0" r="3.1"/><circle cx="607.2" cy="596.9" r="3.1"/><circle cx="613.0" cy="595.5" r="3.1"/><circle cx="617.4" cy="592.6" r="3.1"/><circle cx="621.8" cy="591.1" r="3.1"/><circle cx="626.1" cy="595.5" r="3.1"/><circle cx="630.5" cy="592.6" r="3.1"/><circle cx="634.9" cy="595.5" r="3.1"/><circle cx="639.3" cy="594.0" r="3.1"/><circle cx="541.5" cy="598.4" r="3.1"/><circle cx="554.6" cy="599.9" r="3.1"/><circle cx="559.0" cy="601.3" r="3.1"/><circle cx="567.7" cy="599.9" r="3.1"/><circle cx="567.7" cy="605.0" r="3.1"/><circle cx="591.8" cy="599.9" r="3.1"/><circle cx="595.5" cy="601.3" r="3.1"/><circle cx="604.2" cy="601.3" r="3.1"/><circle cx="610.1" cy="601.3" r="3.1"/><circle cx="614.5" cy="598.4" r="3.1"/><circle cx="618.8" cy="601.3" r="3.1"/><circle cx="624.7" cy="598.4" r="3.1"/><circle cx="630.5" cy="601.3" r="3.1"/><circle cx="636.4" cy="598.4" r="3.1"/><circle cx="633.4" cy="604.2" r="3.1"/><circle cx="550.2" cy="605.7" r="3.1"/><circle cx="583.8" cy="602.8" r="3.1"/><circle cx="594.0" cy="607.2" r="3.1"/><circle cx="598.4" cy="610.1" r="3.1"/><circle cx="604.2" cy="608.6" r="3.1"/><circle cx="608.6" cy="608.6" r="3.1"/><circle cx="615.9" cy="610.1" r="3.1"/><circle cx="621.8" cy="611.5" r="3.1"/><circle cx="627.6" cy="608.6" r="3.1"/><circle cx="632.0" cy="607.2" r="3.1"/><circle cx="575.0" cy="610.1" r="3.1"/><circle cx="579.4" cy="610.1" r="3.1"/><circle cx="573.6" cy="615.9" r="3.1"/><circle cx="578.0" cy="618.8" r="3.1"/><circle cx="576.5" cy="623.9" r="3.1"/><circle cx="589.6" cy="613.0" r="3.1"/><circle cx="595.5" cy="614.5" r="3.1"/><circle cx="615.9" cy="615.2" r="3.1"/><circle cx="619.6" cy="613.0" r="3.1"/><circle cx="624.7" cy="617.4" r="3.1"/><circle cx="627.6" cy="614.5" r="3.1"/><circle cx="632.0" cy="613.0" r="3.1"/><circle cx="634.9" cy="610.1" r="3.1"/><circle cx="636.4" cy="617.4" r="3.1"/><circle cx="551.7" cy="613.0" r="3.1"/><circle cx="550.2" cy="617.4" r="3.1"/><circle cx="550.2" cy="621.8" r="3.1"/><circle cx="568.5" cy="622.9" r="3.1"/><circle cx="633.4" cy="620.3" r="3.1"/><circle cx="624.7" cy="621.8" r="3.1"/><circle cx="624.7" cy="626.1" r="3.1"/><circle cx="636.4" cy="624.7" r="3.1"/><circle cx="550.2" cy="632.7" r="3.1"/><circle cx="559.0" cy="632.0" r="3.1"/><circle cx="556.1" cy="635.6" r="3.1"/><circle cx="627.6" cy="632.7" r="3.1"/><circle cx="633.4" cy="634.2" r="3.1"/><circle cx="642.1" cy="550.1" r="3.1"/><circle cx="646.2" cy="554.8" r="3.1"/><circle cx="650.2" cy="553.5" r="3.1"/><circle cx="652.2" cy="557.5" r="3.1"/><circle cx="650.2" cy="560.2" r="3.1"/><circle cx="646.8" cy="558.9" r="3.1"/><circle cx="646.2" cy="571.0" r="3.1"/><circle cx="651.5" cy="583.1" r="3.1"/><circle cx="640.1" cy="593.9" r="3.1"/><circle cx="642.8" cy="603.3" r="3.1"/><circle cx="660.7" cy="593.9" r="3.1"/><circle cx="657.6" cy="602.6" r="3.1"/><circle cx="654.6" cy="612.0" r="3.1"/><circle cx="657.6" cy="618.1" r="3.1"/><circle cx="648.9" cy="620.1" r="3.1"/><circle cx="642.8" cy="631.2" r="3.1"/><circle cx="470.1" cy="650.1" r="3.1"/><circle cx="481.7" cy="644.9" r="3.1"/><circle cx="487.8" cy="644.9" r="3.1"/><circle cx="490.8" cy="653.7" r="3.1"/><circle cx="505.7" cy="645.4" r="3.1"/><circle cx="475.9" cy="663.3" r="3.1"/><circle cx="452.3" cy="669.4" r="3.1"/><circle cx="508.9" cy="669.4" r="3.1"/><circle cx="518.0" cy="668.9" r="3.1"/><circle cx="538.6" cy="646.3" r="3.1"/><circle cx="550.4" cy="642.8" r="3.1"/><circle cx="562.5" cy="641.6" r="3.1"/><circle cx="580.4" cy="642.0" r="3.1"/><circle cx="574.3" cy="654.6" r="3.1"/><circle cx="589.0" cy="649.3" r="3.1"/><circle cx="601.0" cy="644.7" r="3.1"/><circle cx="613.0" cy="648.9" r="3.1"/><circle cx="604.1" cy="662.6" r="3.1"/><circle cx="636.7" cy="659.4" r="3.1"/><circle cx="639.9" cy="660.5" r="3.1"/></g>
<g fill="#3a75ba"><circle cx="476.8" cy="569.1" r="3.1"/><circle cx="483.0" cy="569.6" r="3.1"/><circle cx="486.7" cy="570.2" r="3.1"/><circle cx="492.1" cy="569.3" r="3.1"/><circle cx="496.9" cy="569.5" r="3.1"/><circle cx="505.7" cy="570.7" r="3.1"/><circle cx="511.0" cy="569.9" r="3.1"/><circle cx="515.3" cy="569.7" r="3.1"/><circle cx="522.4" cy="570.0" r="3.1"/><circle cx="537.5" cy="570.6" r="3.1"/><circle cx="542.5" cy="570.6" r="3.1"/><circle cx="546.5" cy="571.1" r="3.1"/><circle cx="552.5" cy="570.9" r="3.1"/><circle cx="556.6" cy="571.2" r="3.1"/><circle cx="562.6" cy="569.9" r="3.1"/><circle cx="567.8" cy="571.0" r="3.1"/><circle cx="571.7" cy="570.0" r="3.1"/><circle cx="584.0" cy="570.9" r="3.1"/><circle cx="591.1" cy="570.4" r="3.1"/><circle cx="594.4" cy="570.7" r="3.1"/><circle cx="604.2" cy="571.0" r="3.1"/><circle cx="610.5" cy="570.0" r="3.1"/><circle cx="618.3" cy="570.3" r="3.1"/><circle cx="623.8" cy="570.3" r="3.1"/><circle cx="643.6" cy="567.9" r="3.1"/><circle cx="461.2" cy="586.7" r="3.1"/><circle cx="466.7" cy="586.4" r="3.1"/><circle cx="472.7" cy="586.3" r="3.1"/><circle cx="476.0" cy="585.3" r="3.1"/><circle cx="480.8" cy="584.0" r="3.1"/><circle cx="488.1" cy="584.1" r="3.1"/><circle cx="497.9" cy="585.1" r="3.1"/><circle cx="502.4" cy="583.2" r="3.1"/><circle cx="507.9" cy="583.3" r="3.1"/><circle cx="520.3" cy="584.1" r="3.1"/><circle cx="524.1" cy="584.2" r="3.1"/><circle cx="529.9" cy="584.9" r="3.1"/><circle cx="534.3" cy="584.4" r="3.1"/><circle cx="538.7" cy="583.6" r="3.1"/><circle cx="545.1" cy="584.4" r="3.1"/><circle cx="550.6" cy="584.1" r="3.1"/><circle cx="556.0" cy="584.0" r="3.1"/><circle cx="560.5" cy="584.9" r="3.1"/><circle cx="573.3" cy="585.1" r="3.1"/><circle cx="577.8" cy="584.5" r="3.1"/><circle cx="584.2" cy="585.0" r="3.1"/><circle cx="589.6" cy="583.3" r="3.1"/><circle cx="594.3" cy="583.3" r="3.1"/><circle cx="600.9" cy="584.1" r="3.1"/><circle cx="605.5" cy="584.2" r="3.1"/><circle cx="610.4" cy="584.3" r="3.1"/><circle cx="614.7" cy="584.4" r="3.1"/><circle cx="619.3" cy="584.4" r="3.1"/><circle cx="629.9" cy="587.0" r="3.1"/><circle cx="638.0" cy="586.0" r="3.1"/><circle cx="643.9" cy="587.4" r="3.1"/></g>
<g fill="none" stroke-linecap="butt">
<path d="M452.3 571.2 L462.7 571.2 L470.3 571.2 L473.1 572.0 L480.3 574.0 L483.5 574.0 L493.9 574.0 L504.3 574.0 L514.7 574.0 L525.1 574.0 L535.5 574.0 L545.9 574.0 L556.3 574.0 L566.7 574.0 L577.1 574.0 L587.5 574.0 L597.9 574.0 L608.3 574.0 L618.7 574.0 L620.3 574.0 L629.1 571.6 L630.3 571.3 L639.5 571.3 L649.9 571.3 L660.3 571.3" stroke="#b5432b" stroke-width="3.2"/>
<path d="M452.3 583.2 L462.7 583.2 L470.3 583.2 L473.1 582.4 L480.3 580.4 L483.5 580.4 L493.9 580.4 L504.3 580.4 L514.7 580.4 L525.1 580.4 L535.5 580.4 L545.9 580.4 L556.3 580.4 L566.7 580.4 L577.1 580.4 L587.5 580.4 L597.9 580.4 L608.3 580.4 L618.7 580.4 L620.3 580.4 L629.1 582.8 L630.3 583.1 L639.5 583.1 L649.9 583.1 L660.3 583.1" stroke="#b5432b" stroke-width="3.2"/>
<line x1="452.3" y1="577.2" x2="660.3" y2="577.2" stroke="#b5432b" stroke-width="5"/>
</g>
<line x1="429.2" y1="567.0" x2="684.2" y2="567.0" stroke="#1a1a1a" stroke-width="3.5" stroke-dasharray="20.2 8.2"/>
<rect x="429.2" y="437.2" width="255.0" height="259.6" fill="none" stroke="#2e2e2e" stroke-width="1.25"/>
<path d="M458.9 696.8v-2.6M458.9 437.2v2.6M518.2 696.8v-2.6M518.2 437.2v2.6M577.6 696.8v-2.6M577.6 437.2v2.6M637.0 696.8v-2.6M637.0 437.2v2.6M429.2 455.7h2.6M684.2 455.7h-2.6M429.2 492.8h2.6M684.2 492.8h-2.6M429.2 529.9h2.6M684.2 529.9h-2.6M429.2 567.0h2.6M684.2 567.0h-2.6M429.2 604.1h2.6M684.2 604.1h-2.6M429.2 641.2h2.6M684.2 641.2h-2.6M429.2 678.3h2.6M684.2 678.3h-2.6" stroke="#2e2e2e" stroke-width="1.1" fill="none"/>
<text id="xt3_20" transform="translate(458.88,715.60)" font-size="15" text-anchor="middle">20</text>
<text id="xt3_40" transform="translate(518.24,715.60)" font-size="15" text-anchor="middle">40</text>
<text id="xt3_60" transform="translate(577.60,715.60)" font-size="15" text-anchor="middle">60</text>
<text id="xt3_80" transform="translate(636.96,715.60)" font-size="15" text-anchor="middle">80</text>
<text id="yt3_160" transform="translate(422.00,461.94)" font-size="15" text-anchor="end">160</text>
<text id="yt3_140" transform="translate(422.00,499.03)" font-size="15" text-anchor="end">140</text>
<text id="yt3_120" transform="translate(422.00,536.11)" font-size="15" text-anchor="end">120</text>
<text id="yt3_100" transform="translate(422.00,573.20)" font-size="15" text-anchor="end">100</text>
<text id="yt3_80" transform="translate(422.00,610.29)" font-size="15" text-anchor="end">80</text>
<text id="yt3_60" transform="translate(422.00,647.37)" font-size="15" text-anchor="end">60</text>
<text id="yt3_40" transform="translate(422.00,684.46)" font-size="15" text-anchor="end">40</text>
<text id="xl3" transform="translate(556.70,737.90)" font-size="15" text-anchor="middle">Age (years)</text>
<text id="yl3" transform="translate(384.30,568.30) rotate(-90)" font-size="15" text-anchor="middle">Cumulative delay (%)</text>
<text id="l2_3" transform="translate(556.80,406.30)" font-size="15" text-anchor="middle" textLength="169.40" lengthAdjust="spacing"><tspan font-style="italic">R</tspan><tspan font-size="10" dy="-5.6">2</tspan><tspan dy="5.6">=0.00 </tspan><tspan font-style="italic">N</tspan>=526 <tspan font-style="italic">P</tspan>=0.996</text>
<text id="l3_3" transform="translate(556.60,424.70)" font-size="15" text-anchor="middle" textLength="220.40" lengthAdjust="spacing"><tspan font-style="italic">y</tspan>=94 [90,99] −0.00<tspan font-style="italic">x</tspan> [−0.08,0.08]</text>
<text id="row0" transform="translate(13.10,198.30) rotate(-90)" font-size="15" text-anchor="middle">Auditory</text>
<text id="row1" transform="translate(12.50,566.90) rotate(-90)" font-size="15" text-anchor="middle">Visual</text>
</svg></body></html>
